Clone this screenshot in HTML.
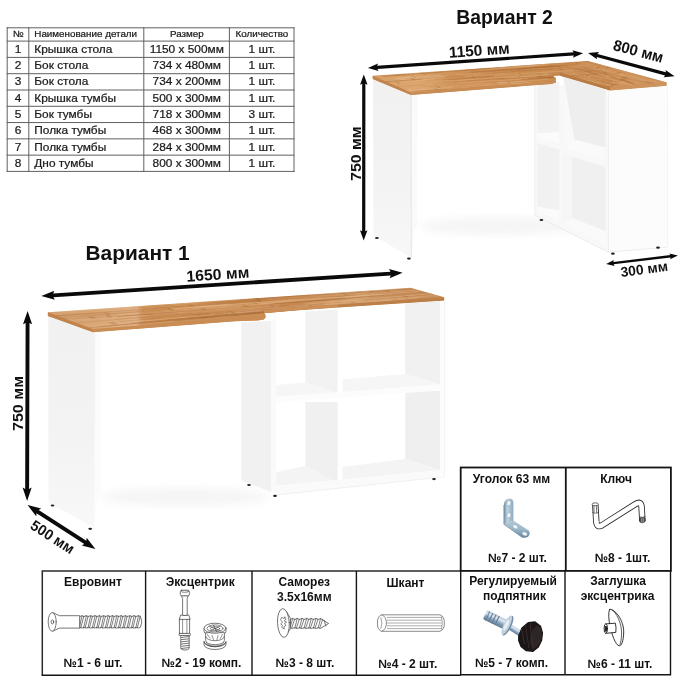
<!DOCTYPE html>
<html lang="ru"><head><meta charset="utf-8"><title>Стол</title>
<style>
html,body{margin:0;padding:0;background:#fff;}
body{width:700px;height:700px;overflow:hidden;}
svg{display:block;font-family:"Liberation Sans",sans-serif;filter:blur(0.35px);}
</style></head><body>
<svg width="700" height="700" viewBox="0 0 700 700">
<defs>
<linearGradient id="wood1" gradientUnits="userSpaceOnUse" x1="47" y1="0" x2="445" y2="0">
<stop offset="0" stop-color="#d4a070"/><stop offset="0.12" stop-color="#d8a676"/><stop offset="0.225" stop-color="#dfaf83"/><stop offset="0.24" stop-color="#cd9259"/><stop offset="0.62" stop-color="#c98c52"/><stop offset="0.78" stop-color="#dcaa78"/><stop offset="0.9" stop-color="#d5a06c"/><stop offset="1" stop-color="#d29c68"/>
</linearGradient>
<linearGradient id="wood2" gradientUnits="userSpaceOnUse" x1="372" y1="0" x2="667" y2="0">
<stop offset="0" stop-color="#d7a067"/><stop offset="0.15" stop-color="#dba66e"/><stop offset="0.3" stop-color="#cf9256"/><stop offset="0.6" stop-color="#ca8b4e"/><stop offset="0.8" stop-color="#cd9054"/><stop offset="1" stop-color="#d39a60"/>
</linearGradient>
<linearGradient id="pan" x1="0" y1="0" x2="0" y2="1"><stop offset="0" stop-color="#f1f1f1"/><stop offset="0.6" stop-color="#f3f3f3"/><stop offset="1" stop-color="#f8f8f8"/></linearGradient>
<filter id="b1" x="-5%" y="-5%" width="110%" height="110%"><feGaussianBlur stdDeviation="0.45"/></filter>
<filter id="b2" x="-20%" y="-20%" width="140%" height="140%"><feGaussianBlur stdDeviation="4"/></filter>
</defs>
<rect width="700" height="700" fill="#ffffff"/>

<g id="table" stroke="#1a1a1a" stroke-width="0.22">
<line x1="7.20" y1="27.30" x2="7.20" y2="171.90" stroke="#606060" stroke-width="1"/>
<line x1="28.80" y1="27.30" x2="28.80" y2="171.90" stroke="#606060" stroke-width="1"/>
<line x1="143.80" y1="27.30" x2="143.80" y2="171.90" stroke="#606060" stroke-width="1"/>
<line x1="229.40" y1="27.30" x2="229.40" y2="171.90" stroke="#606060" stroke-width="1"/>
<line x1="294.00" y1="27.30" x2="294.00" y2="171.90" stroke="#606060" stroke-width="1"/>
<line x1="6.70" y1="27.80" x2="294.50" y2="27.80" stroke="#606060" stroke-width="1"/>
<line x1="6.70" y1="41.10" x2="294.50" y2="41.10" stroke="#606060" stroke-width="1"/>
<line x1="6.70" y1="57.40" x2="294.50" y2="57.40" stroke="#606060" stroke-width="1"/>
<line x1="6.70" y1="73.70" x2="294.50" y2="73.70" stroke="#606060" stroke-width="1"/>
<line x1="6.70" y1="90.00" x2="294.50" y2="90.00" stroke="#606060" stroke-width="1"/>
<line x1="6.70" y1="106.30" x2="294.50" y2="106.30" stroke="#606060" stroke-width="1"/>
<line x1="6.70" y1="122.55" x2="294.50" y2="122.55" stroke="#606060" stroke-width="1"/>
<line x1="6.70" y1="138.85" x2="294.50" y2="138.85" stroke="#606060" stroke-width="1"/>
<line x1="6.70" y1="155.15" x2="294.50" y2="155.15" stroke="#606060" stroke-width="1"/>
<line x1="6.70" y1="171.40" x2="294.50" y2="171.40" stroke="#606060" stroke-width="1"/>
<text transform="translate(18.00 37.40) scale(1.080 1)" font-size="9.10" font-weight="normal" text-anchor="middle" fill="#1a1a1a" >№</text>
<text transform="translate(34.30 37.40) scale(1.080 1)" font-size="9.10" font-weight="normal" text-anchor="start" fill="#1a1a1a" >Наименование детали</text>
<text transform="translate(186.80 37.40) scale(1.080 1)" font-size="9.10" font-weight="normal" text-anchor="middle" fill="#1a1a1a" >Размер</text>
<text transform="translate(261.90 37.40) scale(1.080 1)" font-size="9.10" font-weight="normal" text-anchor="middle" fill="#1a1a1a" >Количество</text>
<text transform="translate(18.00 52.90) scale(1.100 1)" font-size="10.80" font-weight="normal" text-anchor="middle" fill="#1a1a1a" >1</text>
<text transform="translate(34.30 52.90) scale(1.100 1)" font-size="10.80" font-weight="normal" text-anchor="start" fill="#1a1a1a" >Крышка стола</text>
<text transform="translate(186.80 52.90) scale(1.100 1)" font-size="10.80" font-weight="normal" text-anchor="middle" fill="#1a1a1a" >1150 x 500мм</text>
<text transform="translate(261.90 52.90) scale(1.100 1)" font-size="10.80" font-weight="normal" text-anchor="middle" fill="#1a1a1a" >1 шт.</text>
<text transform="translate(18.00 69.19) scale(1.100 1)" font-size="10.80" font-weight="normal" text-anchor="middle" fill="#1a1a1a" >2</text>
<text transform="translate(34.30 69.19) scale(1.100 1)" font-size="10.80" font-weight="normal" text-anchor="start" fill="#1a1a1a" >Бок стола</text>
<text transform="translate(186.80 69.19) scale(1.100 1)" font-size="10.80" font-weight="normal" text-anchor="middle" fill="#1a1a1a" >734 x 480мм</text>
<text transform="translate(261.90 69.19) scale(1.100 1)" font-size="10.80" font-weight="normal" text-anchor="middle" fill="#1a1a1a" >1 шт.</text>
<text transform="translate(18.00 85.48) scale(1.100 1)" font-size="10.80" font-weight="normal" text-anchor="middle" fill="#1a1a1a" >3</text>
<text transform="translate(34.30 85.48) scale(1.100 1)" font-size="10.80" font-weight="normal" text-anchor="start" fill="#1a1a1a" >Бок стола</text>
<text transform="translate(186.80 85.48) scale(1.100 1)" font-size="10.80" font-weight="normal" text-anchor="middle" fill="#1a1a1a" >734 x 200мм</text>
<text transform="translate(261.90 85.48) scale(1.100 1)" font-size="10.80" font-weight="normal" text-anchor="middle" fill="#1a1a1a" >1 шт.</text>
<text transform="translate(18.00 101.77) scale(1.100 1)" font-size="10.80" font-weight="normal" text-anchor="middle" fill="#1a1a1a" >4</text>
<text transform="translate(34.30 101.77) scale(1.100 1)" font-size="10.80" font-weight="normal" text-anchor="start" fill="#1a1a1a" >Крышка тумбы</text>
<text transform="translate(186.80 101.77) scale(1.100 1)" font-size="10.80" font-weight="normal" text-anchor="middle" fill="#1a1a1a" >500 x 300мм</text>
<text transform="translate(261.90 101.77) scale(1.100 1)" font-size="10.80" font-weight="normal" text-anchor="middle" fill="#1a1a1a" >1 шт.</text>
<text transform="translate(18.00 118.06) scale(1.100 1)" font-size="10.80" font-weight="normal" text-anchor="middle" fill="#1a1a1a" >5</text>
<text transform="translate(34.30 118.06) scale(1.100 1)" font-size="10.80" font-weight="normal" text-anchor="start" fill="#1a1a1a" >Бок тумбы</text>
<text transform="translate(186.80 118.06) scale(1.100 1)" font-size="10.80" font-weight="normal" text-anchor="middle" fill="#1a1a1a" >718 x 300мм</text>
<text transform="translate(261.90 118.06) scale(1.100 1)" font-size="10.80" font-weight="normal" text-anchor="middle" fill="#1a1a1a" >3 шт.</text>
<text transform="translate(18.00 134.35) scale(1.100 1)" font-size="10.80" font-weight="normal" text-anchor="middle" fill="#1a1a1a" >6</text>
<text transform="translate(34.30 134.35) scale(1.100 1)" font-size="10.80" font-weight="normal" text-anchor="start" fill="#1a1a1a" >Полка тумбы</text>
<text transform="translate(186.80 134.35) scale(1.100 1)" font-size="10.80" font-weight="normal" text-anchor="middle" fill="#1a1a1a" >468 x 300мм</text>
<text transform="translate(261.90 134.35) scale(1.100 1)" font-size="10.80" font-weight="normal" text-anchor="middle" fill="#1a1a1a" >1 шт.</text>
<text transform="translate(18.00 150.64) scale(1.100 1)" font-size="10.80" font-weight="normal" text-anchor="middle" fill="#1a1a1a" >7</text>
<text transform="translate(34.30 150.64) scale(1.100 1)" font-size="10.80" font-weight="normal" text-anchor="start" fill="#1a1a1a" >Полка тумбы</text>
<text transform="translate(186.80 150.64) scale(1.100 1)" font-size="10.80" font-weight="normal" text-anchor="middle" fill="#1a1a1a" >284 x 300мм</text>
<text transform="translate(261.90 150.64) scale(1.100 1)" font-size="10.80" font-weight="normal" text-anchor="middle" fill="#1a1a1a" >1 шт.</text>
<text transform="translate(18.00 166.93) scale(1.100 1)" font-size="10.80" font-weight="normal" text-anchor="middle" fill="#1a1a1a" >8</text>
<text transform="translate(34.30 166.93) scale(1.100 1)" font-size="10.80" font-weight="normal" text-anchor="start" fill="#1a1a1a" >Дно тумбы</text>
<text transform="translate(186.80 166.93) scale(1.100 1)" font-size="10.80" font-weight="normal" text-anchor="middle" fill="#1a1a1a" >800 x 300мм</text>
<text transform="translate(261.90 166.93) scale(1.100 1)" font-size="10.80" font-weight="normal" text-anchor="middle" fill="#1a1a1a" >1 шт.</text>
</g>
<g id="v2">
<ellipse cx="500" cy="226" rx="80" ry="9" fill="#f5f5f5" filter="url(#b2)"/>
<polygon points="373.0,78.5 411.5,95.0 411.5,257.7 373.4,235.4" fill="url(#pan)" />
<polygon points="411.5,95.0 417.4,95.0 417.2,229.0 414.5,229.5 411.5,257.7" fill="#fafafa" />
<polygon points="411.3,95.0 411.3,257.7" fill="none" stroke="#e6e6e6" stroke-width="0.6"/>
<polygon points="534.5,84.0 608.4,88.0 608.4,252.0 534.5,214.8" fill="#f8f8f8" />
<polygon points="608.4,88.0 667.0,84.0 667.5,247.0 608.4,252.0" fill="#fcfcfc" />
<line x1="608.5" y1="90" x2="608.5" y2="252" stroke="#ebebeb" stroke-width="0.8"/>
<line x1="534.6" y1="84" x2="534.6" y2="214.8" stroke="#ececec" stroke-width="0.7"/>
<polyline points="534.5,215 608.4,252.2 667.5,247.2" fill="none" stroke="#e9e9e9" stroke-width="0.8"/>
<line x1="667.4" y1="86" x2="667.6" y2="247" stroke="#efefef" stroke-width="0.7"/>
<polygon points="537.5,84.0 559.3,82.0 559.3,144.3 537.5,138.3" fill="#f2f2f2" />
<polygon points="537.5,133.5 559.3,131.5 559.3,144.3 537.5,138.3" fill="#fbfbfb" />
<polygon points="563.3,76.0 605.6,90.0 605.6,160.6 563.3,148.4" fill="#eeeeee" />
<polygon points="563.3,76.0 574.5,139.5 563.3,148.4" fill="#f9f9f9" />
<polygon points="574.5,139.5 605.6,147.5 605.6,160.6 563.3,148.4" fill="#fafafa" />
<polygon points="537.5,143.6 559.3,149.6 559.3,220.4 537.5,211.6" fill="#f1f1f1" />
<polygon points="537.5,206.5 559.3,210.5 559.3,220.4 537.5,211.6" fill="#fbfbfb" />
<polygon points="563.3,154.3 605.6,166.8 605.6,246.2 563.3,222.6" fill="#f0f0f0" />
<polygon points="563.3,154.3 572.0,157.0 572.0,218.0 563.3,222.6" fill="#f6f6f6" />
<polygon points="572.0,218.0 605.6,231.0 605.6,246.2 563.3,222.6" fill="#fafafa" />
<clipPath id="cp2"><polygon points="372.6,75.8 587.7,60.9 666.6,82.3 666.6,85.8 610.0,90.4 559.6,75.4 553.0,76.0 556.0,78.2 555.8,82.6 551.4,84.1 530.0,85.6 410.9,95.1 372.6,78.9"/></clipPath>
<polygon points="372.6,75.8 587.7,60.9 666.6,82.3 666.6,85.8 610.0,90.4 559.6,75.4 553.0,76.0 556.0,78.2 555.8,82.6 551.4,84.1 530.0,85.6 410.9,95.1 372.6,78.9" fill="url(#wood2)" />
<g clip-path="url(#cp2)">
<line x1="487.9" y1="76.6" x2="573.7" y2="70.7" stroke="#aa6b35" stroke-width="0.91" opacity="0.18" stroke-linecap="round"/>
<line x1="536.5" y1="76.7" x2="559.3" y2="75.1" stroke="#a0622f" stroke-width="1.21" opacity="0.25" stroke-linecap="round"/>
<line x1="499.3" y1="79.4" x2="544.3" y2="76.2" stroke="#aa6b35" stroke-width="1.17" opacity="0.26" stroke-linecap="round"/>
<line x1="371.6" y1="77.1" x2="458.1" y2="71.1" stroke="#e0aa7a" stroke-width="0.97" opacity="0.23" stroke-linecap="round"/>
<line x1="416.2" y1="76.6" x2="455.9" y2="73.8" stroke="#a0622f" stroke-width="0.72" opacity="0.23" stroke-linecap="round"/>
<line x1="580.3" y1="80.8" x2="609.4" y2="78.8" stroke="#f0c9a0" stroke-width="0.91" opacity="0.34" stroke-linecap="round"/>
<line x1="477.7" y1="69.1" x2="503.4" y2="67.3" stroke="#b3733c" stroke-width="1.27" opacity="0.22" stroke-linecap="round"/>
<line x1="395.5" y1="90.7" x2="425.9" y2="88.6" stroke="#e0aa7a" stroke-width="1.07" opacity="0.24" stroke-linecap="round"/>
<line x1="488.3" y1="76.0" x2="519.6" y2="73.8" stroke="#f0c9a0" stroke-width="0.77" opacity="0.17" stroke-linecap="round"/>
<line x1="536.9" y1="83.2" x2="560.4" y2="81.5" stroke="#a0622f" stroke-width="0.87" opacity="0.14" stroke-linecap="round"/>
<line x1="512.3" y1="75.6" x2="542.6" y2="73.5" stroke="#aa6b35" stroke-width="0.81" opacity="0.22" stroke-linecap="round"/>
<line x1="570.1" y1="69.8" x2="586.6" y2="68.7" stroke="#f0c9a0" stroke-width="0.52" opacity="0.40" stroke-linecap="round"/>
<line x1="568.1" y1="65.9" x2="600.5" y2="63.7" stroke="#ecc094" stroke-width="0.67" opacity="0.40" stroke-linecap="round"/>
<line x1="525.0" y1="70.3" x2="567.1" y2="67.4" stroke="#a0622f" stroke-width="0.67" opacity="0.15" stroke-linecap="round"/>
<line x1="390.0" y1="87.0" x2="432.9" y2="84.0" stroke="#e6b486" stroke-width="0.89" opacity="0.39" stroke-linecap="round"/>
<line x1="549.4" y1="74.7" x2="578.9" y2="72.7" stroke="#aa6b35" stroke-width="0.70" opacity="0.30" stroke-linecap="round"/>
<line x1="517.0" y1="69.5" x2="600.5" y2="63.7" stroke="#96592a" stroke-width="0.98" opacity="0.32" stroke-linecap="round"/>
<line x1="398.7" y1="82.2" x2="417.9" y2="80.9" stroke="#e6b486" stroke-width="0.81" opacity="0.33" stroke-linecap="round"/>
<line x1="554.0" y1="71.4" x2="603.1" y2="68.0" stroke="#a0622f" stroke-width="0.88" opacity="0.17" stroke-linecap="round"/>
<line x1="503.6" y1="79.4" x2="524.9" y2="78.0" stroke="#aa6b35" stroke-width="0.56" opacity="0.29" stroke-linecap="round"/>
<line x1="426.5" y1="80.1" x2="446.4" y2="78.7" stroke="#aa6b35" stroke-width="0.61" opacity="0.16" stroke-linecap="round"/>
<line x1="443.6" y1="79.6" x2="515.1" y2="74.7" stroke="#aa6b35" stroke-width="1.24" opacity="0.26" stroke-linecap="round"/>
<line x1="449.5" y1="79.7" x2="489.1" y2="77.0" stroke="#a0622f" stroke-width="1.08" opacity="0.24" stroke-linecap="round"/>
<line x1="570.8" y1="68.3" x2="593.1" y2="66.7" stroke="#a0622f" stroke-width="1.09" opacity="0.32" stroke-linecap="round"/>
<line x1="538.0" y1="78.0" x2="606.2" y2="73.3" stroke="#96592a" stroke-width="1.20" opacity="0.32" stroke-linecap="round"/>
<line x1="531.8" y1="72.9" x2="603.0" y2="68.0" stroke="#e0aa7a" stroke-width="0.51" opacity="0.24" stroke-linecap="round"/>
<line x1="383.1" y1="76.5" x2="409.2" y2="74.7" stroke="#96592a" stroke-width="0.81" opacity="0.29" stroke-linecap="round"/>
<line x1="499.1" y1="81.3" x2="546.7" y2="78.0" stroke="#ecc094" stroke-width="0.91" opacity="0.28" stroke-linecap="round"/>
<line x1="391.4" y1="80.5" x2="409.7" y2="79.3" stroke="#ecc094" stroke-width="0.99" opacity="0.27" stroke-linecap="round"/>
<line x1="444.8" y1="88.7" x2="460.8" y2="87.6" stroke="#aa6b35" stroke-width="1.10" opacity="0.24" stroke-linecap="round"/>
<line x1="557.6" y1="69.6" x2="602.2" y2="66.6" stroke="#96592a" stroke-width="0.66" opacity="0.27" stroke-linecap="round"/>
<line x1="535.0" y1="72.9" x2="603.2" y2="68.2" stroke="#e0aa7a" stroke-width="1.24" opacity="0.20" stroke-linecap="round"/>
<line x1="397.0" y1="78.2" x2="440.9" y2="75.1" stroke="#ecc094" stroke-width="1.26" opacity="0.33" stroke-linecap="round"/>
<line x1="406.2" y1="78.9" x2="457.5" y2="75.3" stroke="#aa6b35" stroke-width="0.81" opacity="0.31" stroke-linecap="round"/>
<line x1="511.2" y1="76.3" x2="580.7" y2="71.5" stroke="#e0aa7a" stroke-width="1.16" opacity="0.23" stroke-linecap="round"/>
<line x1="492.8" y1="72.9" x2="561.6" y2="68.1" stroke="#b3733c" stroke-width="1.13" opacity="0.20" stroke-linecap="round"/>
<line x1="390.3" y1="74.9" x2="443.6" y2="71.3" stroke="#b3733c" stroke-width="0.61" opacity="0.19" stroke-linecap="round"/>
<line x1="491.5" y1="68.5" x2="544.0" y2="64.8" stroke="#f0c9a0" stroke-width="1.05" opacity="0.39" stroke-linecap="round"/>
<line x1="464.5" y1="73.3" x2="495.2" y2="71.2" stroke="#96592a" stroke-width="0.53" opacity="0.25" stroke-linecap="round"/>
<line x1="525.6" y1="69.6" x2="584.1" y2="65.6" stroke="#e6b486" stroke-width="1.13" opacity="0.25" stroke-linecap="round"/>
<line x1="413.6" y1="90.6" x2="495.0" y2="84.9" stroke="#e6b486" stroke-width="0.66" opacity="0.26" stroke-linecap="round"/>
<line x1="398.2" y1="91.3" x2="452.7" y2="87.5" stroke="#f0c9a0" stroke-width="1.02" opacity="0.27" stroke-linecap="round"/>
<line x1="513.8" y1="70.0" x2="594.1" y2="64.4" stroke="#ecc094" stroke-width="1.22" opacity="0.20" stroke-linecap="round"/>
<line x1="576.7" y1="80.7" x2="609.2" y2="78.5" stroke="#f0c9a0" stroke-width="1.07" opacity="0.22" stroke-linecap="round"/>
<line x1="465.4" y1="69.7" x2="485.5" y2="68.3" stroke="#96592a" stroke-width="0.89" opacity="0.29" stroke-linecap="round"/>
<line x1="527.7" y1="65.6" x2="550.0" y2="64.1" stroke="#e6b486" stroke-width="1.05" opacity="0.28" stroke-linecap="round"/>
<line x1="483.6" y1="85.9" x2="569.7" y2="80.0" stroke="#e0aa7a" stroke-width="0.89" opacity="0.39" stroke-linecap="round"/>
<line x1="415.0" y1="91.3" x2="445.8" y2="89.2" stroke="#b3733c" stroke-width="0.95" opacity="0.31" stroke-linecap="round"/>
<line x1="471.3" y1="72.2" x2="559.0" y2="66.1" stroke="#96592a" stroke-width="1.20" opacity="0.33" stroke-linecap="round"/>
<line x1="443.6" y1="82.7" x2="470.0" y2="80.9" stroke="#b3733c" stroke-width="0.66" opacity="0.25" stroke-linecap="round"/>
<line x1="479.2" y1="78.8" x2="540.4" y2="74.6" stroke="#a0622f" stroke-width="0.82" opacity="0.24" stroke-linecap="round"/>
<line x1="497.4" y1="82.7" x2="548.3" y2="79.2" stroke="#ecc094" stroke-width="0.87" opacity="0.38" stroke-linecap="round"/>
<line x1="543.7" y1="81.9" x2="587.5" y2="78.8" stroke="#96592a" stroke-width="0.85" opacity="0.17" stroke-linecap="round"/>
<line x1="560.0" y1="78.7" x2="607.4" y2="75.4" stroke="#aa6b35" stroke-width="0.52" opacity="0.22" stroke-linecap="round"/>
<line x1="511.1" y1="71.3" x2="601.3" y2="65.0" stroke="#aa6b35" stroke-width="1.05" opacity="0.19" stroke-linecap="round"/>
<line x1="444.4" y1="77.1" x2="508.3" y2="72.7" stroke="#a0622f" stroke-width="1.00" opacity="0.31" stroke-linecap="round"/>
<line x1="521.2" y1="79.5" x2="600.7" y2="74.0" stroke="#96592a" stroke-width="0.99" opacity="0.31" stroke-linecap="round"/>
<line x1="548.2" y1="74.1" x2="604.0" y2="70.2" stroke="#aa6b35" stroke-width="0.99" opacity="0.31" stroke-linecap="round"/>
<line x1="438.4" y1="87.9" x2="506.7" y2="83.2" stroke="#e6b486" stroke-width="0.75" opacity="0.23" stroke-linecap="round"/>
<line x1="438.0" y1="89.2" x2="523.9" y2="83.3" stroke="#e6b486" stroke-width="0.61" opacity="0.37" stroke-linecap="round"/>
<line x1="443.8" y1="72.6" x2="495.0" y2="69.0" stroke="#e6b486" stroke-width="1.00" opacity="0.20" stroke-linecap="round"/>
<line x1="411.2" y1="88.7" x2="467.7" y2="84.7" stroke="#b3733c" stroke-width="0.90" opacity="0.16" stroke-linecap="round"/>
<line x1="485.2" y1="82.7" x2="550.4" y2="78.2" stroke="#a0622f" stroke-width="0.52" opacity="0.24" stroke-linecap="round"/>
<line x1="505.8" y1="81.4" x2="586.8" y2="75.8" stroke="#aa6b35" stroke-width="0.66" opacity="0.18" stroke-linecap="round"/>
<line x1="576.9" y1="78.0" x2="607.7" y2="75.9" stroke="#a0622f" stroke-width="1.04" opacity="0.17" stroke-linecap="round"/>
<line x1="384.5" y1="76.5" x2="432.4" y2="73.2" stroke="#b3733c" stroke-width="0.98" opacity="0.23" stroke-linecap="round"/>
<line x1="505.4" y1="66.9" x2="589.7" y2="61.0" stroke="#96592a" stroke-width="0.80" opacity="0.21" stroke-linecap="round"/>
<line x1="508.2" y1="84.3" x2="530.2" y2="82.8" stroke="#f0c9a0" stroke-width="1.14" opacity="0.37" stroke-linecap="round"/>
<line x1="550.7" y1="77.2" x2="606.2" y2="73.3" stroke="#aa6b35" stroke-width="1.29" opacity="0.24" stroke-linecap="round"/>
<line x1="441.4" y1="86.7" x2="522.4" y2="81.1" stroke="#e6b486" stroke-width="0.82" opacity="0.35" stroke-linecap="round"/>
<line x1="557.7" y1="80.4" x2="608.3" y2="76.9" stroke="#e6b486" stroke-width="1.08" opacity="0.25" stroke-linecap="round"/>
<line x1="433.9" y1="72.9" x2="487.9" y2="69.2" stroke="#b3733c" stroke-width="1.22" opacity="0.34" stroke-linecap="round"/>
<line x1="419.3" y1="73.5" x2="512.4" y2="67.1" stroke="#aa6b35" stroke-width="0.96" opacity="0.27" stroke-linecap="round"/>
<line x1="457.4" y1="80.3" x2="548.0" y2="74.0" stroke="#ecc094" stroke-width="1.28" opacity="0.34" stroke-linecap="round"/>
<line x1="488.2" y1="68.2" x2="564.0" y2="63.0" stroke="#96592a" stroke-width="1.11" opacity="0.24" stroke-linecap="round"/>
<line x1="389.5" y1="87.2" x2="424.4" y2="84.8" stroke="#b3733c" stroke-width="0.91" opacity="0.25" stroke-linecap="round"/>
<line x1="502.6" y1="85.6" x2="587.8" y2="79.7" stroke="#ecc094" stroke-width="1.03" opacity="0.29" stroke-linecap="round"/>
<line x1="469.5" y1="87.7" x2="550.8" y2="82.0" stroke="#aa6b35" stroke-width="0.93" opacity="0.31" stroke-linecap="round"/>
<line x1="466.9" y1="80.9" x2="519.4" y2="77.2" stroke="#96592a" stroke-width="0.79" opacity="0.26" stroke-linecap="round"/>
<line x1="502.4" y1="72.4" x2="562.1" y2="68.2" stroke="#b3733c" stroke-width="1.12" opacity="0.15" stroke-linecap="round"/>
<line x1="505.2" y1="78.0" x2="551.5" y2="74.8" stroke="#ecc094" stroke-width="1.10" opacity="0.37" stroke-linecap="round"/>
<line x1="564.7" y1="63.5" x2="599.0" y2="61.1" stroke="#aa6b35" stroke-width="0.88" opacity="0.23" stroke-linecap="round"/>
<line x1="444.3" y1="89.8" x2="496.3" y2="86.2" stroke="#e0aa7a" stroke-width="1.27" opacity="0.19" stroke-linecap="round"/>
<line x1="511.6" y1="70.9" x2="532.2" y2="69.5" stroke="#a0622f" stroke-width="0.54" opacity="0.18" stroke-linecap="round"/>
<line x1="406.5" y1="83.7" x2="455.6" y2="80.3" stroke="#e0aa7a" stroke-width="1.01" opacity="0.30" stroke-linecap="round"/>
<line x1="457.1" y1="83.2" x2="527.2" y2="78.4" stroke="#e6b486" stroke-width="1.09" opacity="0.39" stroke-linecap="round"/>
<line x1="393.9" y1="79.0" x2="479.6" y2="73.0" stroke="#f0c9a0" stroke-width="0.99" opacity="0.22" stroke-linecap="round"/>
<line x1="520.9" y1="79.6" x2="550.4" y2="77.6" stroke="#aa6b35" stroke-width="0.70" opacity="0.18" stroke-linecap="round"/>
<line x1="565.6" y1="81.5" x2="609.2" y2="78.5" stroke="#a0622f" stroke-width="0.71" opacity="0.14" stroke-linecap="round"/>
<line x1="370.7" y1="76.5" x2="405.5" y2="74.0" stroke="#a0622f" stroke-width="0.63" opacity="0.32" stroke-linecap="round"/>
<line x1="566.0" y1="67.0" x2="601.0" y2="64.5" stroke="#b3733c" stroke-width="1.10" opacity="0.21" stroke-linecap="round"/>
<line x1="408.7" y1="89.6" x2="432.7" y2="87.9" stroke="#e6b486" stroke-width="1.10" opacity="0.26" stroke-linecap="round"/>
<line x1="406.6" y1="81.0" x2="434.7" y2="79.1" stroke="#f0c9a0" stroke-width="1.11" opacity="0.22" stroke-linecap="round"/>
<line x1="428.4" y1="88.0" x2="490.7" y2="83.7" stroke="#e0aa7a" stroke-width="0.56" opacity="0.37" stroke-linecap="round"/>
<line x1="479.3" y1="70.0" x2="534.5" y2="66.2" stroke="#f0c9a0" stroke-width="0.51" opacity="0.36" stroke-linecap="round"/>
<line x1="553.2" y1="69.3" x2="601.9" y2="66.0" stroke="#e0aa7a" stroke-width="1.06" opacity="0.33" stroke-linecap="round"/>
<line x1="401.3" y1="79.3" x2="445.4" y2="76.3" stroke="#f0c9a0" stroke-width="0.76" opacity="0.38" stroke-linecap="round"/>
<line x1="494.4" y1="75.9" x2="578.6" y2="70.1" stroke="#f0c9a0" stroke-width="1.14" opacity="0.26" stroke-linecap="round"/>
<line x1="436.4" y1="77.3" x2="483.6" y2="74.0" stroke="#e6b486" stroke-width="1.16" opacity="0.17" stroke-linecap="round"/>
<line x1="500.7" y1="67.4" x2="564.3" y2="63.0" stroke="#f0c9a0" stroke-width="0.93" opacity="0.35" stroke-linecap="round"/>
<line x1="498.3" y1="83.4" x2="526.4" y2="81.4" stroke="#f0c9a0" stroke-width="0.68" opacity="0.35" stroke-linecap="round"/>
<line x1="396.3" y1="75.3" x2="436.8" y2="72.5" stroke="#96592a" stroke-width="0.94" opacity="0.15" stroke-linecap="round"/>
<line x1="408.6" y1="88.6" x2="430.0" y2="87.2" stroke="#f0c9a0" stroke-width="1.01" opacity="0.17" stroke-linecap="round"/>
<line x1="517.3" y1="68.6" x2="585.0" y2="63.9" stroke="#aa6b35" stroke-width="1.23" opacity="0.24" stroke-linecap="round"/>
<line x1="465.2" y1="76.0" x2="508.5" y2="73.0" stroke="#f0c9a0" stroke-width="0.89" opacity="0.32" stroke-linecap="round"/>
<line x1="520.9" y1="76.0" x2="589.7" y2="71.2" stroke="#e0aa7a" stroke-width="1.29" opacity="0.34" stroke-linecap="round"/>
<line x1="376.4" y1="82.3" x2="421.7" y2="79.2" stroke="#96592a" stroke-width="1.01" opacity="0.33" stroke-linecap="round"/>
<line x1="518.5" y1="75.9" x2="594.4" y2="70.6" stroke="#96592a" stroke-width="0.70" opacity="0.32" stroke-linecap="round"/>
<line x1="495.5" y1="70.4" x2="565.8" y2="65.6" stroke="#96592a" stroke-width="0.73" opacity="0.22" stroke-linecap="round"/>
<line x1="410.9" y1="92.0" x2="447.8" y2="89.5" stroke="#aa6b35" stroke-width="0.64" opacity="0.30" stroke-linecap="round"/>
<line x1="538.7" y1="74.0" x2="541.2" y2="76.3" stroke="#8d5526" stroke-width="0.7" opacity="0.45"/>
<line x1="549.0" y1="63.6" x2="551.1" y2="65.9" stroke="#8d5526" stroke-width="0.7" opacity="0.45"/>
<line x1="518.4" y1="73.0" x2="521.1" y2="75.2" stroke="#8d5526" stroke-width="0.7" opacity="0.45"/>
<line x1="410.6" y1="78.0" x2="415.0" y2="80.2" stroke="#8d5526" stroke-width="0.7" opacity="0.45"/>
<line x1="568.9" y1="79.2" x2="570.9" y2="81.5" stroke="#8d5526" stroke-width="0.7" opacity="0.45"/>
<line x1="507.2" y1="81.1" x2="510.2" y2="83.3" stroke="#8d5526" stroke-width="0.7" opacity="0.45"/>
<line x1="395.7" y1="81.5" x2="400.3" y2="83.6" stroke="#8d5526" stroke-width="0.7" opacity="0.45"/>
<line x1="471.9" y1="76.2" x2="475.4" y2="78.4" stroke="#8d5526" stroke-width="0.7" opacity="0.45"/>
<line x1="568.1" y1="67.1" x2="570.0" y2="69.4" stroke="#8d5526" stroke-width="0.7" opacity="0.45"/>
<line x1="436.5" y1="86.0" x2="440.7" y2="88.1" stroke="#8d5526" stroke-width="0.7" opacity="0.45"/>
<line x1="411.4" y1="75.5" x2="415.6" y2="77.7" stroke="#8d5526" stroke-width="0.7" opacity="0.45"/>
<line x1="434.8" y1="88.5" x2="439.1" y2="90.6" stroke="#8d5526" stroke-width="0.7" opacity="0.45"/>
<line x1="575.7" y1="61.7" x2="577.4" y2="64.0" stroke="#8d5526" stroke-width="0.7" opacity="0.45"/>
<line x1="421.4" y1="72.4" x2="425.5" y2="74.6" stroke="#8d5526" stroke-width="0.7" opacity="0.45"/>
<line x1="578.5" y1="68.8" x2="580.2" y2="71.1" stroke="#8d5526" stroke-width="0.7" opacity="0.45"/>
<line x1="559.5" y1="67.7" x2="561.5" y2="70.0" stroke="#8d5526" stroke-width="0.7" opacity="0.45"/>
<polygon points="587.7,60.9 666.6,82.3 610.0,87.4 560.3,74.0 566.0,69.0" fill="#d29a64" opacity="0.5"/>
<line x1="612.1" y1="77.2" x2="633.3" y2="83.0" stroke="#a0622f" stroke-width="0.89" opacity="0.34" stroke-linecap="round"/>
<line x1="593.3" y1="75.6" x2="617.4" y2="82.1" stroke="#a0622f" stroke-width="0.62" opacity="0.27" stroke-linecap="round"/>
<line x1="582.5" y1="68.5" x2="609.9" y2="76.0" stroke="#aa6b35" stroke-width="1.05" opacity="0.15" stroke-linecap="round"/>
<line x1="601.6" y1="71.6" x2="628.6" y2="78.9" stroke="#a0622f" stroke-width="1.03" opacity="0.30" stroke-linecap="round"/>
<line x1="646.0" y1="81.3" x2="657.6" y2="84.4" stroke="#96592a" stroke-width="0.93" opacity="0.33" stroke-linecap="round"/>
<line x1="589.1" y1="79.3" x2="612.5" y2="85.7" stroke="#e6b486" stroke-width="0.57" opacity="0.28" stroke-linecap="round"/>
<line x1="606.8" y1="78.5" x2="622.3" y2="82.7" stroke="#ecc094" stroke-width="0.57" opacity="0.31" stroke-linecap="round"/>
<line x1="633.6" y1="77.3" x2="646.6" y2="80.8" stroke="#e0aa7a" stroke-width="0.59" opacity="0.32" stroke-linecap="round"/>
<line x1="602.5" y1="69.7" x2="621.9" y2="75.0" stroke="#e6b486" stroke-width="1.16" opacity="0.16" stroke-linecap="round"/>
<line x1="605.3" y1="74.5" x2="616.1" y2="77.4" stroke="#96592a" stroke-width="0.99" opacity="0.18" stroke-linecap="round"/>
<line x1="576.1" y1="73.2" x2="582.3" y2="74.9" stroke="#96592a" stroke-width="0.78" opacity="0.20" stroke-linecap="round"/>
<line x1="570.2" y1="69.2" x2="585.3" y2="73.3" stroke="#b3733c" stroke-width="1.06" opacity="0.23" stroke-linecap="round"/>
<line x1="573.9" y1="74.7" x2="597.9" y2="81.2" stroke="#b3733c" stroke-width="1.11" opacity="0.18" stroke-linecap="round"/>
<line x1="619.8" y1="74.1" x2="651.1" y2="82.6" stroke="#f0c9a0" stroke-width="1.14" opacity="0.19" stroke-linecap="round"/>
<line x1="585.9" y1="70.7" x2="593.8" y2="72.8" stroke="#aa6b35" stroke-width="0.76" opacity="0.14" stroke-linecap="round"/>
<line x1="607.5" y1="82.4" x2="624.8" y2="87.1" stroke="#96592a" stroke-width="0.78" opacity="0.24" stroke-linecap="round"/>
<line x1="590.9" y1="75.8" x2="611.7" y2="81.4" stroke="#a0622f" stroke-width="1.26" opacity="0.20" stroke-linecap="round"/>
<line x1="612.6" y1="78.2" x2="634.4" y2="84.1" stroke="#b3733c" stroke-width="0.52" opacity="0.24" stroke-linecap="round"/>
<line x1="585.7" y1="60.4" x2="608.3" y2="66.6" stroke="#aa6b35" stroke-width="0.85" opacity="0.19" stroke-linecap="round"/>
<line x1="585.1" y1="80.3" x2="600.8" y2="84.5" stroke="#f0c9a0" stroke-width="0.83" opacity="0.34" stroke-linecap="round"/>
<line x1="621.3" y1="82.1" x2="636.4" y2="86.1" stroke="#f0c9a0" stroke-width="1.01" opacity="0.40" stroke-linecap="round"/>
<line x1="584.1" y1="67.8" x2="606.8" y2="74.0" stroke="#a0622f" stroke-width="1.22" opacity="0.30" stroke-linecap="round"/>
<line x1="586.7" y1="79.3" x2="606.2" y2="84.5" stroke="#a0622f" stroke-width="0.65" opacity="0.28" stroke-linecap="round"/>
<line x1="630.2" y1="78.0" x2="653.9" y2="84.4" stroke="#a0622f" stroke-width="0.98" opacity="0.18" stroke-linecap="round"/>
<line x1="598.7" y1="77.8" x2="605.0" y2="79.5" stroke="#a0622f" stroke-width="0.61" opacity="0.28" stroke-linecap="round"/>
<line x1="604.0" y1="67.2" x2="629.8" y2="74.2" stroke="#e0aa7a" stroke-width="0.52" opacity="0.24" stroke-linecap="round"/>
<line x1="598.4" y1="73.8" x2="607.8" y2="76.4" stroke="#f0c9a0" stroke-width="1.21" opacity="0.26" stroke-linecap="round"/>
<line x1="597.5" y1="65.5" x2="630.7" y2="74.5" stroke="#aa6b35" stroke-width="0.74" opacity="0.28" stroke-linecap="round"/>
<line x1="579.3" y1="69.2" x2="605.7" y2="76.4" stroke="#96592a" stroke-width="0.90" opacity="0.22" stroke-linecap="round"/>
<line x1="590.9" y1="76.2" x2="612.5" y2="82.1" stroke="#aa6b35" stroke-width="1.06" opacity="0.22" stroke-linecap="round"/>
<line x1="590.8" y1="78.0" x2="604.4" y2="81.6" stroke="#a0622f" stroke-width="1.04" opacity="0.25" stroke-linecap="round"/>
<line x1="622.4" y1="77.5" x2="636.1" y2="81.2" stroke="#b3733c" stroke-width="0.64" opacity="0.27" stroke-linecap="round"/>
<line x1="620.8" y1="79.6" x2="629.2" y2="81.9" stroke="#96592a" stroke-width="0.73" opacity="0.30" stroke-linecap="round"/>
<line x1="588.8" y1="80.4" x2="600.4" y2="83.5" stroke="#f0c9a0" stroke-width="0.71" opacity="0.19" stroke-linecap="round"/>
<line x1="631.7" y1="73.5" x2="660.8" y2="81.4" stroke="#96592a" stroke-width="0.71" opacity="0.26" stroke-linecap="round"/>
<line x1="597.4" y1="71.9" x2="612.3" y2="75.9" stroke="#aa6b35" stroke-width="0.66" opacity="0.17" stroke-linecap="round"/>
<line x1="643.1" y1="81.1" x2="655.8" y2="84.6" stroke="#b3733c" stroke-width="1.23" opacity="0.34" stroke-linecap="round"/>
<line x1="609.8" y1="82.7" x2="620.8" y2="85.6" stroke="#ecc094" stroke-width="0.53" opacity="0.29" stroke-linecap="round"/>
<line x1="573.0" y1="73.5" x2="581.4" y2="75.8" stroke="#e6b486" stroke-width="1.12" opacity="0.40" stroke-linecap="round"/>
<line x1="570.9" y1="67.6" x2="597.1" y2="74.7" stroke="#96592a" stroke-width="0.86" opacity="0.25" stroke-linecap="round"/>
<line x1="609.4" y1="77.6" x2="633.3" y2="84.0" stroke="#b3733c" stroke-width="1.01" opacity="0.23" stroke-linecap="round"/>
<line x1="600.3" y1="72.3" x2="618.6" y2="77.2" stroke="#f0c9a0" stroke-width="0.62" opacity="0.16" stroke-linecap="round"/>
<line x1="583.9" y1="75.4" x2="590.6" y2="77.2" stroke="#e0aa7a" stroke-width="1.27" opacity="0.29" stroke-linecap="round"/>
<line x1="578.7" y1="66.1" x2="607.2" y2="73.9" stroke="#aa6b35" stroke-width="0.57" opacity="0.16" stroke-linecap="round"/>
<line x1="582.9" y1="60.8" x2="596.2" y2="64.4" stroke="#a0622f" stroke-width="0.97" opacity="0.26" stroke-linecap="round"/>
<line x1="596.1" y1="79.6" x2="609.9" y2="83.4" stroke="#b3733c" stroke-width="0.81" opacity="0.30" stroke-linecap="round"/>
<line x1="585.9" y1="73.9" x2="592.0" y2="75.5" stroke="#f0c9a0" stroke-width="0.60" opacity="0.19" stroke-linecap="round"/>
<line x1="579.6" y1="68.7" x2="591.4" y2="71.9" stroke="#a0622f" stroke-width="1.08" opacity="0.24" stroke-linecap="round"/>
<line x1="601.7" y1="81.6" x2="613.0" y2="84.7" stroke="#96592a" stroke-width="1.21" opacity="0.21" stroke-linecap="round"/>
<line x1="602.8" y1="78.0" x2="609.0" y2="79.7" stroke="#b3733c" stroke-width="0.60" opacity="0.26" stroke-linecap="round"/>
<line x1="626.8" y1="82.6" x2="639.1" y2="85.9" stroke="#96592a" stroke-width="0.60" opacity="0.34" stroke-linecap="round"/>
<line x1="597.4" y1="75.6" x2="610.7" y2="79.1" stroke="#b3733c" stroke-width="0.75" opacity="0.22" stroke-linecap="round"/>
<line x1="639.5" y1="82.2" x2="649.9" y2="85.0" stroke="#96592a" stroke-width="1.00" opacity="0.15" stroke-linecap="round"/>
<line x1="608.0" y1="84.6" x2="618.9" y2="87.5" stroke="#e6b486" stroke-width="0.77" opacity="0.22" stroke-linecap="round"/>
<line x1="589.2" y1="74.8" x2="605.4" y2="79.2" stroke="#ecc094" stroke-width="0.92" opacity="0.36" stroke-linecap="round"/>
<line x1="620.8" y1="72.5" x2="615.6" y2="73.6" stroke="#8d5526" stroke-width="0.7" opacity="0.45"/>
<line x1="578.2" y1="68.6" x2="574.5" y2="70.1" stroke="#8d5526" stroke-width="0.7" opacity="0.45"/>
<line x1="627.6" y1="76.8" x2="621.8" y2="77.8" stroke="#8d5526" stroke-width="0.7" opacity="0.45"/>
<line x1="613.7" y1="85.9" x2="606.9" y2="86.6" stroke="#8d5526" stroke-width="0.7" opacity="0.45"/>
<line x1="590.6" y1="74.5" x2="586.0" y2="75.8" stroke="#8d5526" stroke-width="0.7" opacity="0.45"/>
<line x1="610.3" y1="67.0" x2="605.8" y2="68.4" stroke="#8d5526" stroke-width="0.7" opacity="0.45"/>
<line x1="626.1" y1="79.0" x2="620.0" y2="79.9" stroke="#8d5526" stroke-width="0.7" opacity="0.45"/>
<line x1="617.6" y1="84.4" x2="611.0" y2="85.1" stroke="#8d5526" stroke-width="0.7" opacity="0.45"/>
<line x1="600.2" y1="66.9" x2="596.0" y2="68.3" stroke="#8d5526" stroke-width="0.7" opacity="0.45"/>
<polygon points="372.6,75.8 410.9,92.6 410.9,95.3 372.6,78.9" fill="#c0844c" />
<polygon points="410.9,92.6 530.0,83.0 551.0,81.5 554.5,80.0 556.3,82.8 551.4,84.3 530.0,85.8 410.9,95.4" fill="#c88c54" />
<polygon points="560.3,72.8 610.0,87.2 610.0,90.6 559.4,75.6" fill="#b87b43" />
<polygon points="610.0,87.2 666.6,82.1 666.6,86.0 610.0,90.6" fill="#cd935c" />
</g>
<ellipse cx="376.9" cy="238.0" rx="1.9" ry="1.1" fill="#222"/>
<ellipse cx="408.9" cy="258.6" rx="1.9" ry="1.1" fill="#222"/>
<ellipse cx="541.4" cy="220.0" rx="1.9" ry="1.1" fill="#222"/>
<ellipse cx="612.9" cy="253.7" rx="1.9" ry="1.1" fill="#222"/>
<ellipse cx="658.0" cy="247.7" rx="1.9" ry="1.1" fill="#222"/>
</g>
<g id="v1">
<ellipse cx="185" cy="497" rx="85" ry="9" fill="#f5f5f5" filter="url(#b2)"/>
<polygon points="48.2,315.5 95.4,332.0 94.2,527.4 48.6,502.6" fill="url(#pan)" />
<polygon points="95.4,332.0 100.8,332.0 100.4,493.0 97.5,494.0 94.2,527.4" fill="#fbfbfb" />
<polygon points="241.2,322.0 271.2,321.0 271.2,492.0 241.2,480.6" fill="#f1f1f1" />
<polygon points="271.2,321.0 276.2,314.0 276.2,495.0 271.2,492.0" fill="#fafafa" />
<polygon points="305.4,311.5 337.7,309.5 337.7,393.7 305.4,382.6" fill="#f2f2f2" />
<polygon points="305.4,402.0 337.7,402.0 337.7,482.7 305.4,466.0" fill="#f0f0f0" />
<polygon points="405.2,303.5 440.0,301.0 440.0,384.6 405.2,374.0" fill="#f1f1f1" />
<polygon points="405.2,391.0 440.0,391.0 440.0,470.2 405.2,459.0" fill="#efefef" />
<polygon points="276.2,385.1 305.4,382.6 337.7,393.7 276.2,396.8" fill="#f6f6f6" />
<polygon points="342.5,379.5 405.2,374.0 440.0,384.6 342.5,392.5" fill="#f6f6f6" />
<polygon points="276.2,472.0 305.4,466.0 337.7,482.7 276.2,485.5" fill="#f4f4f4" />
<polygon points="342.5,467.0 405.2,459.0 440.0,470.2 342.5,479.5" fill="#f4f4f4" />
<polygon points="276.2,396.8 440.0,384.6 440.0,390.4 276.2,402.5" fill="#fcfcfc" />
<polygon points="276.2,485.5 444.0,470.2 444.0,476.8 276.2,495.0" fill="#fafafa" />
<polyline points="276.2,495 444,476.8" fill="none" stroke="#ececec" stroke-width="0.8"/>
<polygon points="440.0,301.0 444.2,300.6 444.2,476.8 440.0,477.0" fill="#fdfdfd" />
<line x1="444.4" y1="301" x2="444.4" y2="476.8" stroke="#ededed" stroke-width="0.7"/>
<clipPath id="cp1"><polygon points="47.8,312.2 410.3,287.7 444.2,297.2 444.2,300.5 338.0,307.5 295.0,310.4 264.0,313.3 265.3,314.8 265.6,317.4 263.6,319.5 258.0,320.4 235.0,321.3 92.9,332.2 47.8,316.0"/></clipPath>
<polygon points="47.8,312.2 410.3,287.7 444.2,297.2 444.2,300.5 338.0,307.5 295.0,310.4 264.0,313.3 265.3,314.8 265.6,317.4 263.6,319.5 258.0,320.4 235.0,321.3 92.9,332.2 47.8,316.0" fill="url(#wood1)" />
<g clip-path="url(#cp1)">
<line x1="273.5" y1="299.4" x2="387.1" y2="291.3" stroke="#aa6b35" stroke-width="0.88" opacity="0.34" stroke-linecap="round"/>
<line x1="135.0" y1="324.4" x2="231.7" y2="315.7" stroke="#ecc094" stroke-width="0.97" opacity="0.24" stroke-linecap="round"/>
<line x1="305.6" y1="295.8" x2="365.6" y2="291.6" stroke="#a0622f" stroke-width="1.30" opacity="0.23" stroke-linecap="round"/>
<line x1="201.6" y1="315.0" x2="287.7" y2="307.6" stroke="#e0aa7a" stroke-width="1.02" opacity="0.32" stroke-linecap="round"/>
<line x1="80.3" y1="328.7" x2="204.9" y2="317.7" stroke="#a0622f" stroke-width="0.94" opacity="0.23" stroke-linecap="round"/>
<line x1="210.5" y1="306.9" x2="264.0" y2="302.8" stroke="#aa6b35" stroke-width="0.66" opacity="0.15" stroke-linecap="round"/>
<line x1="331.1" y1="302.5" x2="445.9" y2="293.0" stroke="#ecc094" stroke-width="0.88" opacity="0.18" stroke-linecap="round"/>
<line x1="134.9" y1="321.7" x2="283.8" y2="308.9" stroke="#e0aa7a" stroke-width="1.26" opacity="0.22" stroke-linecap="round"/>
<line x1="160.4" y1="313.5" x2="252.9" y2="306.2" stroke="#a0622f" stroke-width="1.07" opacity="0.17" stroke-linecap="round"/>
<line x1="75.5" y1="330.1" x2="112.7" y2="326.8" stroke="#e6b486" stroke-width="0.75" opacity="0.29" stroke-linecap="round"/>
<line x1="112.1" y1="326.8" x2="227.2" y2="316.4" stroke="#f0c9a0" stroke-width="0.98" opacity="0.24" stroke-linecap="round"/>
<line x1="78.9" y1="316.0" x2="116.3" y2="313.3" stroke="#e0aa7a" stroke-width="1.05" opacity="0.24" stroke-linecap="round"/>
<line x1="363.5" y1="299.9" x2="450.9" y2="292.7" stroke="#aa6b35" stroke-width="0.97" opacity="0.33" stroke-linecap="round"/>
<line x1="234.4" y1="314.1" x2="311.6" y2="307.3" stroke="#aa6b35" stroke-width="0.56" opacity="0.17" stroke-linecap="round"/>
<line x1="326.3" y1="304.9" x2="417.7" y2="297.0" stroke="#ecc094" stroke-width="1.03" opacity="0.36" stroke-linecap="round"/>
<line x1="116.8" y1="308.2" x2="198.6" y2="302.6" stroke="#e6b486" stroke-width="1.10" opacity="0.40" stroke-linecap="round"/>
<line x1="137.1" y1="314.9" x2="292.4" y2="302.7" stroke="#96592a" stroke-width="0.67" opacity="0.15" stroke-linecap="round"/>
<line x1="334.7" y1="304.7" x2="456.3" y2="294.1" stroke="#e0aa7a" stroke-width="1.22" opacity="0.27" stroke-linecap="round"/>
<line x1="98.5" y1="317.9" x2="204.9" y2="309.6" stroke="#a0622f" stroke-width="0.60" opacity="0.22" stroke-linecap="round"/>
<line x1="151.4" y1="318.2" x2="222.5" y2="312.2" stroke="#96592a" stroke-width="0.82" opacity="0.19" stroke-linecap="round"/>
<line x1="376.0" y1="302.8" x2="421.5" y2="298.7" stroke="#a0622f" stroke-width="1.01" opacity="0.18" stroke-linecap="round"/>
<line x1="89.7" y1="324.8" x2="133.6" y2="321.0" stroke="#b3733c" stroke-width="0.76" opacity="0.25" stroke-linecap="round"/>
<line x1="126.7" y1="316.0" x2="177.2" y2="312.0" stroke="#96592a" stroke-width="1.10" opacity="0.18" stroke-linecap="round"/>
<line x1="267.3" y1="309.2" x2="361.7" y2="301.2" stroke="#ecc094" stroke-width="0.51" opacity="0.35" stroke-linecap="round"/>
<line x1="72.4" y1="319.7" x2="202.0" y2="309.6" stroke="#aa6b35" stroke-width="1.06" opacity="0.19" stroke-linecap="round"/>
<line x1="58.3" y1="317.7" x2="138.7" y2="311.7" stroke="#b3733c" stroke-width="1.14" opacity="0.30" stroke-linecap="round"/>
<line x1="246.4" y1="306.5" x2="347.0" y2="298.6" stroke="#b3733c" stroke-width="0.75" opacity="0.33" stroke-linecap="round"/>
<line x1="238.7" y1="310.6" x2="340.7" y2="302.1" stroke="#b3733c" stroke-width="0.78" opacity="0.34" stroke-linecap="round"/>
<line x1="382.8" y1="293.6" x2="425.9" y2="290.4" stroke="#a0622f" stroke-width="1.15" opacity="0.27" stroke-linecap="round"/>
<line x1="242.9" y1="315.0" x2="394.2" y2="301.4" stroke="#e0aa7a" stroke-width="0.91" opacity="0.27" stroke-linecap="round"/>
<line x1="93.2" y1="326.3" x2="124.7" y2="323.6" stroke="#ecc094" stroke-width="1.06" opacity="0.21" stroke-linecap="round"/>
<line x1="309.9" y1="306.5" x2="397.8" y2="298.9" stroke="#96592a" stroke-width="0.68" opacity="0.21" stroke-linecap="round"/>
<line x1="290.4" y1="309.7" x2="323.4" y2="306.8" stroke="#b3733c" stroke-width="1.21" opacity="0.28" stroke-linecap="round"/>
<line x1="275.9" y1="308.8" x2="403.4" y2="297.9" stroke="#f0c9a0" stroke-width="1.23" opacity="0.21" stroke-linecap="round"/>
<line x1="256.4" y1="304.1" x2="394.4" y2="293.6" stroke="#ecc094" stroke-width="0.66" opacity="0.19" stroke-linecap="round"/>
<line x1="309.6" y1="307.4" x2="349.7" y2="303.9" stroke="#b3733c" stroke-width="0.80" opacity="0.26" stroke-linecap="round"/>
<line x1="394.3" y1="298.2" x2="453.1" y2="293.3" stroke="#96592a" stroke-width="0.77" opacity="0.18" stroke-linecap="round"/>
<line x1="289.0" y1="305.5" x2="351.7" y2="300.4" stroke="#f0c9a0" stroke-width="1.26" opacity="0.28" stroke-linecap="round"/>
<line x1="374.3" y1="303.0" x2="460.6" y2="295.3" stroke="#b3733c" stroke-width="0.63" opacity="0.28" stroke-linecap="round"/>
<line x1="184.2" y1="309.7" x2="273.9" y2="302.9" stroke="#e6b486" stroke-width="1.00" opacity="0.32" stroke-linecap="round"/>
<line x1="369.0" y1="291.8" x2="426.7" y2="287.7" stroke="#b3733c" stroke-width="0.90" opacity="0.14" stroke-linecap="round"/>
<line x1="240.5" y1="299.8" x2="363.3" y2="291.4" stroke="#a0622f" stroke-width="0.62" opacity="0.33" stroke-linecap="round"/>
<line x1="137.6" y1="324.3" x2="214.0" y2="317.5" stroke="#aa6b35" stroke-width="1.13" opacity="0.17" stroke-linecap="round"/>
<line x1="244.9" y1="312.2" x2="279.6" y2="309.2" stroke="#96592a" stroke-width="0.70" opacity="0.32" stroke-linecap="round"/>
<line x1="334.5" y1="300.8" x2="440.0" y2="292.3" stroke="#a0622f" stroke-width="0.56" opacity="0.27" stroke-linecap="round"/>
<line x1="332.4" y1="299.0" x2="442.9" y2="290.5" stroke="#e6b486" stroke-width="1.15" opacity="0.16" stroke-linecap="round"/>
<line x1="266.9" y1="306.8" x2="357.4" y2="299.4" stroke="#f0c9a0" stroke-width="0.62" opacity="0.19" stroke-linecap="round"/>
<line x1="261.2" y1="302.2" x2="291.2" y2="300.0" stroke="#ecc094" stroke-width="0.58" opacity="0.20" stroke-linecap="round"/>
<line x1="188.3" y1="317.1" x2="262.6" y2="310.7" stroke="#96592a" stroke-width="1.13" opacity="0.20" stroke-linecap="round"/>
<line x1="58.9" y1="319.4" x2="118.4" y2="314.8" stroke="#b3733c" stroke-width="1.05" opacity="0.22" stroke-linecap="round"/>
<line x1="239.5" y1="311.0" x2="278.1" y2="307.8" stroke="#e6b486" stroke-width="1.08" opacity="0.28" stroke-linecap="round"/>
<line x1="271.2" y1="306.4" x2="384.3" y2="297.2" stroke="#b3733c" stroke-width="0.63" opacity="0.24" stroke-linecap="round"/>
<line x1="339.0" y1="304.5" x2="456.7" y2="294.3" stroke="#e6b486" stroke-width="1.02" opacity="0.32" stroke-linecap="round"/>
<line x1="261.7" y1="307.3" x2="304.8" y2="303.8" stroke="#aa6b35" stroke-width="1.25" opacity="0.33" stroke-linecap="round"/>
<line x1="69.7" y1="326.6" x2="144.0" y2="320.3" stroke="#ecc094" stroke-width="1.02" opacity="0.34" stroke-linecap="round"/>
<line x1="356.0" y1="293.5" x2="433.8" y2="288.0" stroke="#e6b486" stroke-width="0.91" opacity="0.21" stroke-linecap="round"/>
<line x1="196.3" y1="306.9" x2="327.0" y2="297.3" stroke="#ecc094" stroke-width="0.98" opacity="0.21" stroke-linecap="round"/>
<line x1="274.6" y1="302.2" x2="418.2" y2="291.3" stroke="#ecc094" stroke-width="1.26" opacity="0.38" stroke-linecap="round"/>
<line x1="395.1" y1="298.3" x2="453.5" y2="293.4" stroke="#e6b486" stroke-width="0.92" opacity="0.38" stroke-linecap="round"/>
<line x1="242.6" y1="313.6" x2="286.8" y2="309.7" stroke="#96592a" stroke-width="0.87" opacity="0.26" stroke-linecap="round"/>
<line x1="116.9" y1="316.8" x2="173.5" y2="312.3" stroke="#96592a" stroke-width="0.88" opacity="0.18" stroke-linecap="round"/>
<line x1="326.9" y1="293.9" x2="383.4" y2="290.0" stroke="#f0c9a0" stroke-width="1.14" opacity="0.30" stroke-linecap="round"/>
<line x1="309.2" y1="305.3" x2="452.9" y2="293.2" stroke="#96592a" stroke-width="1.12" opacity="0.15" stroke-linecap="round"/>
<line x1="168.6" y1="319.5" x2="305.5" y2="307.6" stroke="#96592a" stroke-width="1.09" opacity="0.19" stroke-linecap="round"/>
<line x1="228.8" y1="313.4" x2="264.3" y2="310.3" stroke="#aa6b35" stroke-width="0.87" opacity="0.24" stroke-linecap="round"/>
<line x1="261.3" y1="303.8" x2="369.2" y2="295.5" stroke="#f0c9a0" stroke-width="0.80" opacity="0.34" stroke-linecap="round"/>
<line x1="308.3" y1="298.2" x2="436.7" y2="288.8" stroke="#e6b486" stroke-width="0.77" opacity="0.30" stroke-linecap="round"/>
<line x1="318.5" y1="306.2" x2="379.2" y2="300.9" stroke="#b3733c" stroke-width="0.99" opacity="0.16" stroke-linecap="round"/>
<line x1="232.6" y1="310.2" x2="278.6" y2="306.4" stroke="#e0aa7a" stroke-width="1.05" opacity="0.20" stroke-linecap="round"/>
<line x1="266.2" y1="302.5" x2="343.8" y2="296.7" stroke="#aa6b35" stroke-width="0.71" opacity="0.20" stroke-linecap="round"/>
<line x1="87.6" y1="325.8" x2="214.7" y2="314.8" stroke="#ecc094" stroke-width="0.69" opacity="0.40" stroke-linecap="round"/>
<line x1="226.2" y1="311.7" x2="325.1" y2="303.5" stroke="#96592a" stroke-width="1.01" opacity="0.27" stroke-linecap="round"/>
<line x1="164.3" y1="310.7" x2="293.1" y2="301.0" stroke="#e0aa7a" stroke-width="0.97" opacity="0.33" stroke-linecap="round"/>
<line x1="128.7" y1="314.8" x2="270.0" y2="303.9" stroke="#e6b486" stroke-width="1.22" opacity="0.34" stroke-linecap="round"/>
<line x1="179.9" y1="316.4" x2="228.4" y2="312.3" stroke="#b3733c" stroke-width="0.76" opacity="0.21" stroke-linecap="round"/>
<line x1="56.0" y1="315.9" x2="109.6" y2="312.0" stroke="#aa6b35" stroke-width="0.68" opacity="0.31" stroke-linecap="round"/>
<line x1="218.2" y1="302.5" x2="262.5" y2="299.4" stroke="#a0622f" stroke-width="1.06" opacity="0.18" stroke-linecap="round"/>
<line x1="83.1" y1="320.3" x2="143.5" y2="315.5" stroke="#ecc094" stroke-width="0.85" opacity="0.21" stroke-linecap="round"/>
<line x1="377.6" y1="300.3" x2="454.6" y2="293.7" stroke="#e0aa7a" stroke-width="0.75" opacity="0.23" stroke-linecap="round"/>
<line x1="191.0" y1="318.5" x2="321.4" y2="306.9" stroke="#96592a" stroke-width="0.82" opacity="0.15" stroke-linecap="round"/>
<line x1="228.4" y1="313.3" x2="261.6" y2="310.5" stroke="#f0c9a0" stroke-width="1.08" opacity="0.34" stroke-linecap="round"/>
<line x1="109.4" y1="318.1" x2="182.9" y2="312.2" stroke="#f0c9a0" stroke-width="1.14" opacity="0.25" stroke-linecap="round"/>
<line x1="130.9" y1="307.5" x2="171.9" y2="304.7" stroke="#aa6b35" stroke-width="0.62" opacity="0.29" stroke-linecap="round"/>
<line x1="82.0" y1="315.8" x2="198.6" y2="307.2" stroke="#aa6b35" stroke-width="1.10" opacity="0.15" stroke-linecap="round"/>
<line x1="239.5" y1="312.7" x2="281.6" y2="309.1" stroke="#e6b486" stroke-width="0.79" opacity="0.29" stroke-linecap="round"/>
<line x1="207.9" y1="304.6" x2="277.4" y2="299.6" stroke="#aa6b35" stroke-width="0.51" opacity="0.29" stroke-linecap="round"/>
<line x1="107.8" y1="317.7" x2="165.1" y2="313.1" stroke="#b3733c" stroke-width="1.12" opacity="0.14" stroke-linecap="round"/>
<line x1="391.7" y1="299.9" x2="452.4" y2="294.6" stroke="#96592a" stroke-width="1.06" opacity="0.18" stroke-linecap="round"/>
<line x1="131.5" y1="323.4" x2="207.8" y2="316.7" stroke="#b3733c" stroke-width="1.18" opacity="0.32" stroke-linecap="round"/>
<line x1="269.2" y1="299.4" x2="401.1" y2="290.1" stroke="#ecc094" stroke-width="0.70" opacity="0.37" stroke-linecap="round"/>
<line x1="184.5" y1="320.6" x2="262.0" y2="313.6" stroke="#e6b486" stroke-width="0.52" opacity="0.33" stroke-linecap="round"/>
<line x1="365.9" y1="298.3" x2="422.3" y2="293.8" stroke="#e6b486" stroke-width="1.20" opacity="0.35" stroke-linecap="round"/>
<line x1="346.1" y1="304.5" x2="458.1" y2="294.6" stroke="#aa6b35" stroke-width="1.02" opacity="0.33" stroke-linecap="round"/>
<line x1="274.9" y1="303.4" x2="342.6" y2="298.1" stroke="#96592a" stroke-width="1.07" opacity="0.15" stroke-linecap="round"/>
<line x1="119.9" y1="321.6" x2="162.8" y2="318.0" stroke="#a0622f" stroke-width="0.59" opacity="0.27" stroke-linecap="round"/>
<line x1="153.2" y1="314.2" x2="240.6" y2="307.3" stroke="#e0aa7a" stroke-width="1.26" opacity="0.34" stroke-linecap="round"/>
<line x1="149.5" y1="315.3" x2="178.7" y2="313.0" stroke="#b3733c" stroke-width="1.23" opacity="0.23" stroke-linecap="round"/>
<line x1="158.7" y1="320.7" x2="232.5" y2="314.2" stroke="#b3733c" stroke-width="0.63" opacity="0.18" stroke-linecap="round"/>
<line x1="306.6" y1="296.0" x2="357.2" y2="292.5" stroke="#ecc094" stroke-width="0.78" opacity="0.19" stroke-linecap="round"/>
<line x1="48.1" y1="316.4" x2="183.9" y2="306.6" stroke="#aa6b35" stroke-width="1.18" opacity="0.31" stroke-linecap="round"/>
<line x1="115.1" y1="319.4" x2="243.6" y2="308.9" stroke="#b3733c" stroke-width="0.76" opacity="0.22" stroke-linecap="round"/>
<line x1="192.1" y1="315.0" x2="324.7" y2="303.9" stroke="#a0622f" stroke-width="0.76" opacity="0.19" stroke-linecap="round"/>
<line x1="191.4" y1="307.6" x2="336.3" y2="296.9" stroke="#ecc094" stroke-width="1.22" opacity="0.30" stroke-linecap="round"/>
<line x1="292.4" y1="302.5" x2="443.8" y2="290.7" stroke="#96592a" stroke-width="1.20" opacity="0.34" stroke-linecap="round"/>
<line x1="99.7" y1="326.5" x2="221.0" y2="315.8" stroke="#aa6b35" stroke-width="1.23" opacity="0.30" stroke-linecap="round"/>
<line x1="60.8" y1="323.7" x2="190.1" y2="313.2" stroke="#e6b486" stroke-width="0.50" opacity="0.33" stroke-linecap="round"/>
<line x1="362.0" y1="303.0" x2="457.9" y2="294.6" stroke="#ecc094" stroke-width="0.79" opacity="0.29" stroke-linecap="round"/>
<line x1="192.0" y1="312.8" x2="278.4" y2="305.8" stroke="#e6b486" stroke-width="1.01" opacity="0.29" stroke-linecap="round"/>
<line x1="174.9" y1="321.0" x2="323.6" y2="307.7" stroke="#96592a" stroke-width="0.95" opacity="0.27" stroke-linecap="round"/>
<line x1="196.7" y1="315.3" x2="322.5" y2="304.7" stroke="#a0622f" stroke-width="1.01" opacity="0.32" stroke-linecap="round"/>
<line x1="224.3" y1="315.1" x2="314.1" y2="307.2" stroke="#aa6b35" stroke-width="0.88" opacity="0.27" stroke-linecap="round"/>
<line x1="295.4" y1="307.0" x2="365.0" y2="301.1" stroke="#e0aa7a" stroke-width="1.10" opacity="0.28" stroke-linecap="round"/>
<line x1="371.8" y1="298.6" x2="435.0" y2="293.4" stroke="#e6b486" stroke-width="1.08" opacity="0.17" stroke-linecap="round"/>
<line x1="298.0" y1="299.1" x2="383.1" y2="292.9" stroke="#aa6b35" stroke-width="0.57" opacity="0.24" stroke-linecap="round"/>
<line x1="330.9" y1="301.5" x2="448.5" y2="292.0" stroke="#ecc094" stroke-width="0.93" opacity="0.20" stroke-linecap="round"/>
<line x1="233.5" y1="311.0" x2="334.6" y2="302.6" stroke="#e6b486" stroke-width="1.06" opacity="0.31" stroke-linecap="round"/>
<line x1="357.9" y1="304.9" x2="437.6" y2="297.7" stroke="#e6b486" stroke-width="0.51" opacity="0.26" stroke-linecap="round"/>
<line x1="171.6" y1="308.9" x2="226.5" y2="304.8" stroke="#f0c9a0" stroke-width="1.00" opacity="0.38" stroke-linecap="round"/>
<line x1="233.6" y1="313.7" x2="338.4" y2="304.6" stroke="#ecc094" stroke-width="0.70" opacity="0.32" stroke-linecap="round"/>
<line x1="250.5" y1="314.0" x2="345.4" y2="305.5" stroke="#aa6b35" stroke-width="0.69" opacity="0.33" stroke-linecap="round"/>
<line x1="152.7" y1="308.4" x2="287.8" y2="298.7" stroke="#aa6b35" stroke-width="0.92" opacity="0.20" stroke-linecap="round"/>
<line x1="273.9" y1="311.2" x2="306.5" y2="308.3" stroke="#96592a" stroke-width="0.95" opacity="0.31" stroke-linecap="round"/>
<line x1="366.8" y1="293.0" x2="434.5" y2="288.1" stroke="#a0622f" stroke-width="0.62" opacity="0.34" stroke-linecap="round"/>
<line x1="199.5" y1="318.1" x2="309.1" y2="308.4" stroke="#96592a" stroke-width="1.04" opacity="0.21" stroke-linecap="round"/>
<line x1="214.9" y1="304.2" x2="267.7" y2="300.4" stroke="#b3733c" stroke-width="1.27" opacity="0.15" stroke-linecap="round"/>
<line x1="179.4" y1="317.4" x2="260.2" y2="310.5" stroke="#f0c9a0" stroke-width="1.08" opacity="0.17" stroke-linecap="round"/>
<line x1="303.6" y1="300.7" x2="441.8" y2="290.1" stroke="#b3733c" stroke-width="0.91" opacity="0.17" stroke-linecap="round"/>
<line x1="323.2" y1="294.8" x2="413.1" y2="288.6" stroke="#96592a" stroke-width="1.11" opacity="0.30" stroke-linecap="round"/>
<line x1="338.4" y1="305.0" x2="420.2" y2="297.8" stroke="#ecc094" stroke-width="1.09" opacity="0.34" stroke-linecap="round"/>
<line x1="137.5" y1="316.7" x2="200.7" y2="311.6" stroke="#e0aa7a" stroke-width="1.25" opacity="0.21" stroke-linecap="round"/>
<line x1="209.6" y1="313.7" x2="355.0" y2="301.5" stroke="#e6b486" stroke-width="1.17" opacity="0.23" stroke-linecap="round"/>
<line x1="324.0" y1="297.5" x2="437.9" y2="289.1" stroke="#a0622f" stroke-width="0.56" opacity="0.34" stroke-linecap="round"/>
<line x1="205.9" y1="303.4" x2="322.2" y2="295.3" stroke="#96592a" stroke-width="0.68" opacity="0.21" stroke-linecap="round"/>
<line x1="308.8" y1="298.3" x2="356.1" y2="294.8" stroke="#a0622f" stroke-width="1.00" opacity="0.18" stroke-linecap="round"/>
<line x1="381.1" y1="296.5" x2="446.0" y2="291.3" stroke="#aa6b35" stroke-width="0.99" opacity="0.16" stroke-linecap="round"/>
<line x1="312.1" y1="308.3" x2="459.9" y2="295.1" stroke="#aa6b35" stroke-width="1.15" opacity="0.19" stroke-linecap="round"/>
<line x1="253.7" y1="298.6" x2="309.9" y2="294.7" stroke="#96592a" stroke-width="1.09" opacity="0.26" stroke-linecap="round"/>
<line x1="369.3" y1="297.9" x2="434.8" y2="292.7" stroke="#b3733c" stroke-width="1.11" opacity="0.32" stroke-linecap="round"/>
<line x1="291.5" y1="296.3" x2="429.6" y2="286.8" stroke="#e0aa7a" stroke-width="0.55" opacity="0.26" stroke-linecap="round"/>
<line x1="322.5" y1="307.9" x2="386.1" y2="302.2" stroke="#aa6b35" stroke-width="0.89" opacity="0.15" stroke-linecap="round"/>
<line x1="202.6" y1="318.1" x2="353.7" y2="304.6" stroke="#a0622f" stroke-width="0.72" opacity="0.26" stroke-linecap="round"/>
<line x1="75.4" y1="322.8" x2="201.6" y2="312.4" stroke="#a0622f" stroke-width="0.98" opacity="0.17" stroke-linecap="round"/>
<line x1="49.9" y1="315.4" x2="114.0" y2="310.8" stroke="#e0aa7a" stroke-width="0.68" opacity="0.30" stroke-linecap="round"/>
<line x1="59.3" y1="311.9" x2="146.3" y2="306.0" stroke="#ecc094" stroke-width="0.78" opacity="0.35" stroke-linecap="round"/>
<line x1="317.3" y1="300.7" x2="379.0" y2="295.9" stroke="#b3733c" stroke-width="1.03" opacity="0.19" stroke-linecap="round"/>
<line x1="93.3" y1="313.2" x2="185.6" y2="306.6" stroke="#e0aa7a" stroke-width="0.63" opacity="0.39" stroke-linecap="round"/>
<line x1="216.5" y1="309.6" x2="279.1" y2="304.6" stroke="#e6b486" stroke-width="1.16" opacity="0.20" stroke-linecap="round"/>
<line x1="348.8" y1="293.7" x2="433.0" y2="287.7" stroke="#aa6b35" stroke-width="0.79" opacity="0.18" stroke-linecap="round"/>
<line x1="69.0" y1="320.3" x2="116.6" y2="316.6" stroke="#f0c9a0" stroke-width="1.26" opacity="0.25" stroke-linecap="round"/>
<line x1="174.9" y1="308.8" x2="231.2" y2="304.6" stroke="#e6b486" stroke-width="1.20" opacity="0.37" stroke-linecap="round"/>
<line x1="403.3" y1="295.9" x2="407.7" y2="297.2" stroke="#8d5526" stroke-width="0.7" opacity="0.45"/>
<line x1="308.9" y1="305.5" x2="313.6" y2="307.0" stroke="#8d5526" stroke-width="0.7" opacity="0.45"/>
<line x1="343.0" y1="293.9" x2="347.5" y2="295.3" stroke="#8d5526" stroke-width="0.7" opacity="0.45"/>
<line x1="188.4" y1="304.8" x2="193.5" y2="306.5" stroke="#8d5526" stroke-width="0.7" opacity="0.45"/>
<line x1="368.7" y1="290.5" x2="373.0" y2="291.8" stroke="#8d5526" stroke-width="0.7" opacity="0.45"/>
<line x1="88.1" y1="316.7" x2="93.6" y2="318.7" stroke="#8d5526" stroke-width="0.7" opacity="0.45"/>
<line x1="231.4" y1="312.1" x2="236.4" y2="313.8" stroke="#8d5526" stroke-width="0.7" opacity="0.45"/>
<line x1="106.0" y1="315.3" x2="111.5" y2="317.3" stroke="#8d5526" stroke-width="0.7" opacity="0.45"/>
<line x1="111.9" y1="322.2" x2="117.4" y2="324.2" stroke="#8d5526" stroke-width="0.7" opacity="0.45"/>
<line x1="385.9" y1="290.9" x2="390.2" y2="292.2" stroke="#8d5526" stroke-width="0.7" opacity="0.45"/>
<line x1="255.3" y1="298.2" x2="260.2" y2="299.7" stroke="#8d5526" stroke-width="0.7" opacity="0.45"/>
<line x1="108.7" y1="322.4" x2="114.3" y2="324.5" stroke="#8d5526" stroke-width="0.7" opacity="0.45"/>
<line x1="91.1" y1="316.5" x2="96.7" y2="318.5" stroke="#8d5526" stroke-width="0.7" opacity="0.45"/>
<line x1="167.8" y1="308.4" x2="173.0" y2="310.2" stroke="#8d5526" stroke-width="0.7" opacity="0.45"/>
<line x1="252.7" y1="302.2" x2="257.5" y2="303.8" stroke="#8d5526" stroke-width="0.7" opacity="0.45"/>
<line x1="269.0" y1="304.9" x2="273.8" y2="306.5" stroke="#8d5526" stroke-width="0.7" opacity="0.45"/>
<line x1="104.7" y1="313.0" x2="110.2" y2="315.0" stroke="#8d5526" stroke-width="0.7" opacity="0.45"/>
<line x1="200.9" y1="308.1" x2="206.0" y2="309.9" stroke="#8d5526" stroke-width="0.7" opacity="0.45"/>
<line x1="255.8" y1="300.1" x2="260.7" y2="301.6" stroke="#8d5526" stroke-width="0.7" opacity="0.45"/>
<line x1="242.6" y1="305.0" x2="247.6" y2="306.6" stroke="#8d5526" stroke-width="0.7" opacity="0.45"/>
<line x1="350.9" y1="302.0" x2="355.5" y2="303.4" stroke="#8d5526" stroke-width="0.7" opacity="0.45"/>
<line x1="291.9" y1="308.9" x2="296.7" y2="310.5" stroke="#8d5526" stroke-width="0.7" opacity="0.45"/>
<polygon points="47.8,312.2 92.9,328.9 92.9,332.3 47.8,316.1" fill="#c0844c" />
<polygon points="92.9,328.9 235.0,318.0 258.0,317.1 262.4,316.2 264.0,313.3 266.0,313.3 266.0,320.0 258.0,320.6 235.0,321.5 92.9,332.4" fill="#c88c54" />
<polygon points="338.0,304.4 444.2,297.3 444.2,300.7 338.0,307.7" fill="#bb7f47" />
<polygon points="264.0,310.6 295.0,307.6 338.0,304.4 338.0,307.7 295.0,310.6 264.0,313.5" fill="#cb9058" />
</g>
<ellipse cx="52.5" cy="505.5" rx="1.9" ry="1.1" fill="#222"/>
<ellipse cx="90.2" cy="528.8" rx="1.9" ry="1.1" fill="#222"/>
<ellipse cx="249.0" cy="485.0" rx="1.9" ry="1.1" fill="#222"/>
<ellipse cx="275.0" cy="495.9" rx="1.9" ry="1.1" fill="#222"/>
<ellipse cx="434.0" cy="479.1" rx="1.9" ry="1.1" fill="#222"/>
</g>
<g id="dims">
<polygon transform="translate(367.90 68.00) rotate(-3.934)" points="0.00,0.00 10.40,-3.75 9.40,-1.60 206.31,-1.60 205.31,-3.75 215.71,0.00 205.31,3.75 206.31,1.60 9.40,1.60 10.40,3.75" fill="#0a0a0a"/>
<polygon transform="translate(588.00 53.00) rotate(15.059)" points="0.00,0.00 10.40,-3.75 9.40,-1.60 80.28,-1.60 79.28,-3.75 89.68,0.00 79.28,3.75 80.28,1.60 9.40,1.60 10.40,3.75" fill="#0a0a0a"/>
<polygon transform="translate(606.10 264.00) rotate(-6.830)" points="0.00,0.00 8.20,-3.00 7.40,-1.20 64.91,-1.20 64.11,-3.00 72.31,0.00 64.11,3.00 64.91,1.20 7.40,1.20 8.20,3.00" fill="#0a0a0a"/>
<polygon transform="translate(363.80 74.40) rotate(90.034)" points="0.00,0.00 10.40,-3.75 9.40,-1.60 156.80,-1.60 155.80,-3.75 166.20,0.00 155.80,3.75 156.80,1.60 9.40,1.60 10.40,3.75" fill="#0a0a0a"/>
<polygon transform="translate(41.30 296.10) rotate(-3.690)" points="0.00,0.00 13.30,-4.55 12.00,-1.95 350.05,-1.95 348.75,-4.55 362.05,0.00 348.75,4.55 350.05,1.95 12.00,1.95 13.30,4.55" fill="#0a0a0a"/>
<polygon transform="translate(27.60 310.90) rotate(90.151)" points="0.00,0.00 13.30,-4.55 12.00,-1.95 178.00,-1.95 176.70,-4.55 190.00,0.00 176.70,4.55 178.00,1.95 12.00,1.95 13.30,4.55" fill="#0a0a0a"/>
<polygon transform="translate(27.50 505.10) rotate(32.825)" points="0.00,0.00 13.30,-4.55 12.00,-1.95 68.80,-1.95 67.50,-4.55 80.80,0.00 67.50,4.55 68.80,1.95 12.00,1.95 13.30,4.55" fill="#0a0a0a"/>
<text transform="translate(504.50 24.20) scale(0.970 1)" font-size="20.00" font-weight="bold" text-anchor="middle" fill="#111" >Вариант 2</text>
<text transform="translate(137.60 260.30) scale(1.020 1)" font-size="20.50" font-weight="bold" text-anchor="middle" fill="#111" >Вариант 1</text>
<text transform="translate(479.50 55.60) rotate(-4.00)" font-size="15.50" font-weight="bold" text-anchor="middle" fill="#111" >1150 мм</text>
<text transform="translate(637.00 56.30) rotate(15.00) scale(0.970 1)" font-size="15.50" font-weight="bold" text-anchor="middle" fill="#111" >800 мм</text>
<text transform="translate(644.80 273.80) rotate(-7.50)" font-size="13.90" font-weight="bold" text-anchor="middle" fill="#111" >300 мм</text>
<text transform="translate(360.60 153.70) rotate(-90.00) scale(1.025 1)" font-size="15.50" font-weight="bold" text-anchor="middle" fill="#111" >750 мм</text>
<text transform="translate(218.20 279.60) rotate(-3.80) scale(1.020 1)" font-size="15.50" font-weight="bold" text-anchor="middle" fill="#111" >1650 мм</text>
<text transform="translate(22.60 403.50) rotate(-90.00) scale(1.060 1)" font-size="15.20" font-weight="bold" text-anchor="middle" fill="#111" >750 мм</text>
<text transform="translate(49.80 541.30) rotate(33.00) scale(0.950 1)" font-size="15.00" font-weight="bold" text-anchor="middle" fill="#111" >500 мм</text>
</g>
<g id="boxes" stroke="#151515" fill="none">
<path d="M42.3 675 V570.9 H460.7" stroke-width="1.5" stroke="#2a2a2a"/>
<line x1="41.6" y1="675.2" x2="460.7" y2="675.2" stroke-width="1.4"/>
<path d="M460.7 570.9 V674.7 H670.5 V570.9" stroke-width="1.4"/>
<line x1="145.6" y1="570.9" x2="145.6" y2="675" stroke-width="1.4"/>
<line x1="252.0" y1="570.9" x2="252.0" y2="675" stroke-width="1.4"/>
<line x1="356.4" y1="570.9" x2="356.4" y2="675" stroke-width="1.4"/>
<line x1="565.0" y1="570.9" x2="565.0" y2="675" stroke-width="1.4"/>
<rect x="460.7" y="467.5" width="210.2" height="103.4" stroke-width="1.8"/>
<line x1="565.8" y1="467.5" x2="565.8" y2="570.9" stroke-width="1.8"/>
</g>
<g id="labels">
<text transform="translate(93.00 586.00)" font-size="12.00" font-weight="bold" text-anchor="middle" fill="#111" >Евровинт</text>
<text transform="translate(93.00 667.30)" font-size="12.00" font-weight="bold" text-anchor="middle" fill="#111" >№1 - 6 шт.</text>
<text transform="translate(200.20 586.00)" font-size="12.00" font-weight="bold" text-anchor="middle" fill="#111" >Эксцентрик</text>
<text transform="translate(201.50 667.30)" font-size="12.00" font-weight="bold" text-anchor="middle" fill="#111" >№2 - 19 комп.</text>
<text transform="translate(304.30 586.00)" font-size="12.00" font-weight="bold" text-anchor="middle" fill="#111" >Саморез</text>
<text transform="translate(304.30 600.50)" font-size="12.00" font-weight="bold" text-anchor="middle" fill="#111" >3.5х16мм</text>
<text transform="translate(305.00 667.30)" font-size="12.00" font-weight="bold" text-anchor="middle" fill="#111" >№3 - 8 шт.</text>
<text transform="translate(405.50 586.70)" font-size="12.00" font-weight="bold" text-anchor="middle" fill="#111" >Шкант</text>
<text transform="translate(407.80 668.20)" font-size="12.00" font-weight="bold" text-anchor="middle" fill="#111" >№4 - 2 шт.</text>
<text transform="translate(513.00 585.20)" font-size="12.00" font-weight="bold" text-anchor="middle" fill="#111" >Регулируемый</text>
<text transform="translate(514.50 599.50)" font-size="12.00" font-weight="bold" text-anchor="middle" fill="#111" >подпятник</text>
<text transform="translate(511.50 666.80)" font-size="12.00" font-weight="bold" text-anchor="middle" fill="#111" >№5 - 7 комп.</text>
<text transform="translate(618.00 585.20)" font-size="12.00" font-weight="bold" text-anchor="middle" fill="#111" >Заглушка</text>
<text transform="translate(617.50 599.50)" font-size="12.00" font-weight="bold" text-anchor="middle" fill="#111" >эксцентрика</text>
<text transform="translate(620.00 667.80)" font-size="12.00" font-weight="bold" text-anchor="middle" fill="#111" >№6 - 11 шт.</text>
<text transform="translate(511.50 482.80)" font-size="12.00" font-weight="bold" text-anchor="middle" fill="#111" >Уголок 63 мм</text>
<text transform="translate(517.50 561.80)" font-size="12.00" font-weight="bold" text-anchor="middle" fill="#111" >№7 - 2 шт.</text>
<text transform="translate(616.00 482.80)" font-size="12.00" font-weight="bold" text-anchor="middle" fill="#111" >Ключ</text>
<text transform="translate(622.50 561.80)" font-size="12.00" font-weight="bold" text-anchor="middle" fill="#111" >№8 - 1шт.</text>
</g>
<g id="evrovint" stroke="#4a4a4a" stroke-width="0.75" fill="#fff" stroke-linejoin="round" stroke-linecap="round">
<path d="M79.70 616.60 Q81.65 614.80 84.04 616.60 Q86.00 614.80 88.39 616.60 Q90.34 614.80 92.73 616.60 Q94.68 614.80 97.07 616.60 Q99.03 614.80 101.41 616.60 Q103.37 614.80 105.76 616.60 Q107.71 614.80 110.10 616.60 Q112.05 614.80 114.44 616.60 Q116.40 614.80 118.79 616.60 Q120.74 614.80 123.13 616.60 Q125.08 614.80 127.47 616.60 Q129.43 614.80 131.81 616.60 Q133.77 614.80 136.16 616.60 Q138.11 614.80 140.50 616.60 Q143.10 621.90 140.50 627.20 Q138.11 629.00 136.16 627.20 Q133.77 629.00 131.81 627.20 Q129.43 629.00 127.47 627.20 Q125.08 629.00 123.13 627.20 Q120.74 629.00 118.79 627.20 Q116.40 629.00 114.44 627.20 Q112.05 629.00 110.10 627.20 Q107.71 629.00 105.76 627.20 Q103.37 629.00 101.41 627.20 Q99.03 629.00 97.07 627.20 Q94.68 629.00 92.73 627.20 Q90.34 629.00 88.39 627.20 Q86.00 629.00 84.04 627.20 Q81.65 629.00 79.70 627.20 Z"/>
<path d="M83.83 616.10 L80.79 627.90 M82.09 615.50 L79.27 628.10" fill="none" stroke-width="0.7"/>
<path d="M88.17 616.10 L85.13 627.90 M86.43 615.50 L83.61 628.10" fill="none" stroke-width="0.7"/>
<path d="M92.51 616.10 L89.47 627.90 M90.77 615.50 L87.95 628.10" fill="none" stroke-width="0.7"/>
<path d="M96.85 616.10 L93.81 627.90 M95.12 615.50 L92.29 628.10" fill="none" stroke-width="0.7"/>
<path d="M101.20 616.10 L98.16 627.90 M99.46 615.50 L96.64 628.10" fill="none" stroke-width="0.7"/>
<path d="M105.54 616.10 L102.50 627.90 M103.80 615.50 L100.98 628.10" fill="none" stroke-width="0.7"/>
<path d="M109.88 616.10 L106.84 627.90 M108.15 615.50 L105.32 628.10" fill="none" stroke-width="0.7"/>
<path d="M114.23 616.10 L111.19 627.90 M112.49 615.50 L109.67 628.10" fill="none" stroke-width="0.7"/>
<path d="M118.57 616.10 L115.53 627.90 M116.83 615.50 L114.01 628.10" fill="none" stroke-width="0.7"/>
<path d="M122.91 616.10 L119.87 627.90 M121.17 615.50 L118.35 628.10" fill="none" stroke-width="0.7"/>
<path d="M127.25 616.10 L124.21 627.90 M125.52 615.50 L122.69 628.10" fill="none" stroke-width="0.7"/>
<path d="M131.60 616.10 L128.56 627.90 M129.86 615.50 L127.04 628.10" fill="none" stroke-width="0.7"/>
<path d="M135.94 616.10 L132.90 627.90 M134.20 615.50 L131.38 628.10" fill="none" stroke-width="0.7"/>
<path d="M140.28 616.10 L137.24 627.90 M138.55 615.50 L135.72 628.10" fill="none" stroke-width="0.7"/>
<path d="M53 612.7 L59.4 615.7 H79.7 V628.1 H59.4 L53 631.1 Z"/>
<ellipse cx="52.2" cy="621.9" rx="4.0" ry="9.3"/>
<ellipse cx="52.4" cy="621.9" rx="1.3" ry="2.0"/>
</g>
<g id="excentrik" stroke="#4a4a4a" stroke-width="0.75" fill="#fff" stroke-linejoin="round" stroke-linecap="round">
<path d="M181 635.4 Q180.2 636.50 181 637.60 Q180.2 638.70 181 639.80 Q180.2 640.90 181 642.00 Q180.2 643.10 181 644.20 Q180.2 645.30 181 646.40 Q180.2 647.50 181 648.60 Q181.5 650 185 650 Q188.5 650 189 648.6 Q189.8 647.50 189 646.40 Q189.8 645.30 189 644.20 Q189.8 643.10 189 642.00 Q189.8 640.90 189 639.80 Q189.8 638.70 189 637.60 Q189.8 636.50 189 635.40 Z"/>
<path d="M181 637.50 L189 636.60" fill="none"/>
<path d="M181 639.70 L189 638.80" fill="none"/>
<path d="M181 641.90 L189 641.00" fill="none"/>
<path d="M181 644.10 L189 643.20" fill="none"/>
<path d="M181 646.30 L189 645.40" fill="none"/>
<path d="M181 648.50 L189 647.60" fill="none"/>
<rect x="179.8" y="618.6" width="9.8" height="15.2"/>
<path d="M182.6 618.6 V633.8 M186.9 618.6 V633.8" fill="none" stroke-width="0.6"/>
<rect x="179.1" y="633.4" width="11.3" height="2.1" rx="0.6"/>
<path d="M179.4 619 L180.6 615 H188.8 L190 619 Z"/>
<path d="M182.6 615 V598.5 L181.4 595.6 H188.3 L187.2 598.5 V615 Z"/>
<rect x="180.3" y="590.2" width="9.1" height="5.6" rx="1.4"/>
<ellipse cx="184.85" cy="591.6" rx="3.6" ry="0.9" stroke-width="0.55"/>
<path d="M204 628.3 V631.2 A11 4.9 0 0 0 226 631.2 V628.3 Z"/>
<path d="M205.6 633 V640.5 A9.4 4.2 0 0 0 224.4 640.5 V633 Z" stroke-width="0.7"/>
<path d="M205.6 636.5 A9.4 4.2 0 0 0 224.4 636.5" fill="none" stroke-width="0.7"/>
<path d="M204 641.8 V644.6 A11 4.9 0 0 0 226 644.6 V641.8 A11 4.9 0 0 1 204 641.8 Z"/>
<path d="M204 641.8 A11 4.9 0 0 0 226 641.8" fill="none"/>
<path d="M206.3 642.6 A8.7 3.4 0 0 0 223.7 642.6" fill="none" stroke-width="0.6"/>
<ellipse cx="215" cy="628.2" rx="11" ry="5"/>
<ellipse cx="215" cy="628.4" rx="8" ry="3.5" stroke-width="0.65"/>
<ellipse cx="215" cy="628.6" rx="4.6" ry="2" stroke-width="0.6"/>
<path d="M209.5 626.3 L220.5 630.8 M220 626.2 L210 630.9 M213.6 625.3 L216.6 631.6" fill="none" stroke-width="0.75"/>
<path d="M207 634 L210 638 M212 635.4 L213.5 639.4 M218 635.6 L217 639.6 M222.4 634.4 L220.4 638.4" fill="none" stroke-width="0.6"/>
</g>
<g id="samorez" stroke="#4a4a4a" stroke-width="0.75" fill="#fff" stroke-linejoin="round" stroke-linecap="round">
<path d="M290.30 619.50 Q292.17 617.30 294.97 619.50 Q296.84 617.30 299.64 619.50 Q301.51 617.30 304.31 619.50 Q306.18 617.30 308.99 619.50 Q310.85 617.30 313.66 619.50 Q315.53 617.30 318.33 619.50 Q320.20 617.30 323.00 620.10 L328.6 623.50 L323.00 626.90 Q320.20 629.70 318.33 627.50 Q315.53 629.70 313.66 627.50 Q310.85 629.70 308.99 627.50 Q306.18 629.70 304.31 627.50 Q301.51 629.70 299.64 627.50 Q296.84 629.70 294.97 627.50 Q292.17 629.70 290.30 627.50 Z"/>
<path d="M294.74 619.10 L291.70 628.10 M292.64 618.30 L290.07 628.30" fill="none" stroke-width="0.7"/>
<path d="M299.41 619.10 L296.37 628.10 M297.31 618.30 L294.74 628.30" fill="none" stroke-width="0.7"/>
<path d="M304.08 619.10 L301.04 628.10 M301.98 618.30 L299.41 628.30" fill="none" stroke-width="0.7"/>
<path d="M308.75 619.10 L305.72 628.10 M306.65 618.30 L304.08 628.30" fill="none" stroke-width="0.7"/>
<path d="M313.42 619.10 L310.39 628.10 M311.32 618.30 L308.75 628.30" fill="none" stroke-width="0.7"/>
<path d="M318.09 619.10 L315.06 628.10 M315.99 618.30 L313.42 628.30" fill="none" stroke-width="0.7"/>
<path d="M322.77 619.10 L319.73 628.10 M320.66 618.30 L318.09 628.30" fill="none" stroke-width="0.7"/>
<path d="M324.2 620.5 L325.8 626" fill="none"/>
<path d="M286.5 611.5 L290.5 618.6 V628.4 L286.5 635 Z"/>
<ellipse cx="283.4" cy="623" rx="5.9" ry="14.4" transform="rotate(-3 283.4 623)"/>
<path d="M282 617.5 l2.2 1.2 l0.6 -2 l1.3 2.6 l-2 1.6 l2.6 1.2 l-2.4 1.6 l1.8 1.6 l-2.2 1.4 l0.4 2.4 l-2.4 -1.6 l0.4 -2.4 l-1.6 -1.2 l2 -1.8 l-2 -1.8 z" fill="none" stroke-width="0.65"/>
</g>
<g id="shkant" stroke="#666" stroke-width="0.75" fill="#fff" stroke-linejoin="round">
<path d="M381.5 614.8 H440 Q444.4 616.2 444.4 623 Q444.4 629.8 440 631.3 H381.5 Q377.4 629.8 377.4 623 Q377.4 616.2 381.5 614.8 Z"/>
<path d="M381.5 614.8 Q386.4 616.5 386.4 623 Q386.4 629.6 381.5 631.3" fill="none"/>
<path d="M380.8 617.2 Q383 623 380.8 628.8" fill="none" stroke-width="0.6"/>
<line x1="387" y1="617.4" x2="441.5" y2="617.4" stroke="#8a8a8a" stroke-width="0.7"/>
<line x1="387" y1="620.2" x2="441.5" y2="620.2" stroke="#8a8a8a" stroke-width="0.7"/>
<line x1="387" y1="623.0" x2="441.5" y2="623.0" stroke="#8a8a8a" stroke-width="0.7"/>
<line x1="387" y1="625.8" x2="441.5" y2="625.8" stroke="#8a8a8a" stroke-width="0.7"/>
<line x1="387" y1="628.6" x2="441.5" y2="628.6" stroke="#8a8a8a" stroke-width="0.7"/>
<path d="M441.5 616.5 Q443 623 441.5 629.5" fill="none" stroke-width="0.6"/>
</g>
<defs>
<linearGradient id="stl" x1="0" y1="0" x2="0" y2="1"><stop offset="0" stop-color="#b4c6d8"/><stop offset="0.3" stop-color="#dfe9f2"/><stop offset="0.6" stop-color="#8ea6bd"/><stop offset="1" stop-color="#627b95"/></linearGradient>
<linearGradient id="knb" x1="0" y1="0" x2="0" y2="1"><stop offset="0" stop-color="#3a2f2f"/><stop offset="0.5" stop-color="#1d1616"/><stop offset="1" stop-color="#0e0b0b"/></linearGradient>
<linearGradient id="brk" x1="0" y1="0" x2="1" y2="0"><stop offset="0" stop-color="#6f8fa7"/><stop offset="0.35" stop-color="#bfd2df"/><stop offset="1" stop-color="#8eabbf"/></linearGradient>
<linearGradient id="brk2" x1="0" y1="0" x2="0" y2="1"><stop offset="0" stop-color="#b4c9d7"/><stop offset="0.5" stop-color="#9db8ca"/><stop offset="1" stop-color="#64849c"/></linearGradient>
</defs>
<g id="podpyatnik" filter="url(#b1)">
<g transform="translate(507.6 625.6) rotate(32)">
<rect x="2" y="-2.9" width="19" height="5.8" fill="url(#stl)"/>
</g>
<g transform="translate(507 625.3) rotate(26)">
<rect x="-24.5" y="-5.0" width="24" height="10" rx="1.5" fill="url(#stl)"/>
<path d="M-21.5 -5 V5 M-18 -5 V5 M-14.5 -5 V5 M-11 -5 V5" stroke="#647f9a" stroke-width="1.1" fill="none"/>
<ellipse cx="0.9" cy="0" rx="3.4" ry="10.8" fill="#748ca4"/>
<ellipse cx="-0.3" cy="0" rx="3.1" ry="10.5" fill="#c3d1de"/>
<ellipse cx="-0.7" cy="0" rx="1.6" ry="6" fill="#e6edf3"/>
</g>
<polygon points="518.9,636.1 522.1,628.0 528.6,622.7 535.0,622.1 540.4,626.4 542.3,632.9 541.4,640.4 538.2,646.8 532.9,651.1 526.4,650.5 521.1,646.3 518.9,640.4" fill="#1a1414" stroke="#1a1414" stroke-width="1.6" stroke-linejoin="round"/>
<polygon points="530.7,637.1 532.9,629.6 537.1,625.9 540.9,628.0 542.0,633.9 540.6,640.9 537.1,646.3 533.4,648.4 530.7,644.6" fill="#2e2525" stroke="#2e2525" stroke-width="1" stroke-linejoin="round"/>
<path d="M521.5 629 L524.5 644 M525.5 625.5 L529 648 M530 623 L533 650" stroke="#3b3030" stroke-width="0.9" fill="none"/>
</g>
<g id="zaglushka" stroke="#1c1c1c" stroke-width="0.9" fill="#fff" stroke-linejoin="round" stroke-linecap="round">
<path d="M609.8 609.4 C614.5 608.5 624.2 620 623.7 633 C623.4 641 621.5 646 619.3 645.8 C615.5 645.4 611.5 634 609.6 624 C608.4 617 608.4 610 609.8 609.4 Z"/>
<path d="M611.6 609.6 C616.5 612 622 624 621.6 634 C621.4 639.5 620.7 643 619.9 644.4" fill="none" stroke-width="0.7"/>
<path d="M605.6 623.9 L615.4 623.2 Q616.4 627.6 615.8 632.4 L606 633.3 Z"/>
<ellipse cx="605.8" cy="628.6" rx="1.7" ry="4.7"/>
<ellipse cx="605.9" cy="628.8" rx="0.8" ry="2.8" fill="#222"/>
</g>
<g id="ugolok" filter="url(#b1)">
<path d="M503.9 505 Q504.2 499.6 508.6 498.6 Q513.4 498.4 513.4 503 V520.8 L504.2 524.3 Z" fill="url(#brk)"/>
<path d="M504.2 524.3 L513.4 520.6 L528.6 530.6 Q531 533.6 528.4 536.2 Q525.5 538.6 522.4 537.4 Z" fill="url(#brk2)"/>
<path d="M503.9 505 V524.3 L522.4 537.4" stroke="#6d8aa0" stroke-width="0.8" fill="none"/>
<ellipse cx="508.9" cy="503.2" rx="2.0" ry="2.7" fill="#f3f7fa" stroke="#86a0b3" stroke-width="0.5" transform="rotate(20 508.9 503.2)"/>
<ellipse cx="508.9" cy="515.3" rx="2.0" ry="2.7" fill="#f3f7fa" stroke="#86a0b3" stroke-width="0.5" transform="rotate(20 508.9 515.3)"/>
<ellipse cx="515.3" cy="526.7" rx="2.8" ry="1.9" fill="#f3f7fa" stroke="#86a0b3" stroke-width="0.5" transform="rotate(25 515.3 526.7)"/>
<ellipse cx="524.7" cy="533.9" rx="2.8" ry="1.9" fill="#f3f7fa" stroke="#86a0b3" stroke-width="0.5" transform="rotate(25 524.7 533.9)"/>
</g>
<g id="kluch" fill="none" stroke-linejoin="round">
<path d="M595.3 504.6 L596.3 521.8 Q596.9 528.2 602.3 525.1 L635.6 504.0 Q641.2 500.6 641.6 507 L642.4 521.3" stroke="#262626" stroke-width="6.4" stroke-linecap="butt"/>
<path d="M595.2 503.5 L596.3 521.8 Q596.9 528.2 602.3 525.1 L635.6 504.0 Q641.2 500.6 641.6 507 L642.45 522.3" stroke="#fff" stroke-width="4.7" stroke-linecap="butt"/>
<ellipse cx="595.25" cy="504.3" rx="3.1" ry="1.5" fill="#fff" stroke="#333" stroke-width="0.75"/>
<path d="M592.4 512.6 Q595.5 514 598.7 512.4 M594 505.8 V512.8 M596.6 505.8 V512.8" stroke="#333" stroke-width="0.7"/>
<path d="M639.4 516.8 Q642.2 518.1 645.2 516.6" stroke="#333" stroke-width="0.7"/>
<path d="M639.6 517.9 L639.9 521.9 Q642.4 523.9 645.1 521.6 L644.9 517.7 Z" fill="#555" stroke="#333" stroke-width="0.7"/>
<path d="M641.6 518.1 V522.5 M643.3 517.9 V522.3" stroke="#ddd" stroke-width="0.5"/>
</g>
</svg></body></html>
